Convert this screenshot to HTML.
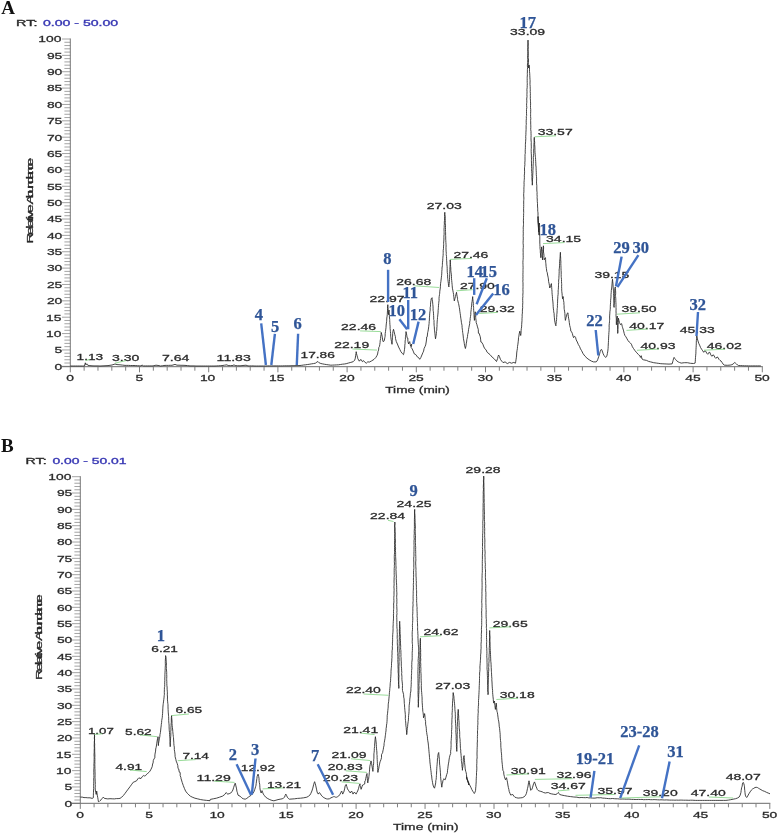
<!DOCTYPE html>
<html lang="en"><head><meta charset="utf-8"><title>Chromatograms</title>
<style>
html,body{margin:0;padding:0;background:#fff}
svg{display:block}
svg text{font-family:"Liberation Sans",Arial,sans-serif;stroke-width:0.27px}
svg text.b{font-family:"Liberation Serif","Times New Roman",serif;font-weight:bold;fill:#2f5597;stroke:#2f5597;stroke-width:0.25px}
svg text.p{font-family:"Liberation Serif","Times New Roman",serif;font-weight:bold;fill:#111;stroke:none}
</style></head><body>
<svg width="779" height="833" viewBox="0 0 779 833">
<rect width="100%" height="100%" fill="#fff"/>
<text class="p" x="1.2" y="14.2" font-size="19">A</text>
<text x="16.1" y="25.9" font-size="9.3" fill="#2a2a2a" stroke="#2a2a2a" textLength="21.4" lengthAdjust="spacingAndGlyphs" style="stroke-width:0.35px">RT:</text>
<text x="42.9" y="25.9" font-size="9.3" fill="#3838b4" stroke="#3838b4" textLength="75.3" lengthAdjust="spacingAndGlyphs" style="stroke-width:0.35px">0.00 - 50.00</text>
<path d="M62.0 366.30H70.3M64.4 363.03H70.3M64.4 359.75H70.3M64.4 356.48H70.3M64.4 353.21H70.3M62.0 349.94H70.3M64.4 346.66H70.3M64.4 343.39H70.3M64.4 340.12H70.3M64.4 336.84H70.3M62.0 333.57H70.3M64.4 330.30H70.3M64.4 327.02H70.3M64.4 323.75H70.3M64.4 320.48H70.3M62.0 317.21H70.3M64.4 313.93H70.3M64.4 310.66H70.3M64.4 307.39H70.3M64.4 304.11H70.3M62.0 300.84H70.3M64.4 297.57H70.3M64.4 294.29H70.3M64.4 291.02H70.3M64.4 287.75H70.3M62.0 284.48H70.3M64.4 281.20H70.3M64.4 277.93H70.3M64.4 274.66H70.3M64.4 271.38H70.3M62.0 268.11H70.3M64.4 264.84H70.3M64.4 261.56H70.3M64.4 258.29H70.3M64.4 255.02H70.3M62.0 251.75H70.3M64.4 248.47H70.3M64.4 245.20H70.3M64.4 241.93H70.3M64.4 238.65H70.3M62.0 235.38H70.3M64.4 232.11H70.3M64.4 228.83H70.3M64.4 225.56H70.3M64.4 222.29H70.3M62.0 219.02H70.3M64.4 215.74H70.3M64.4 212.47H70.3M64.4 209.20H70.3M64.4 205.92H70.3M62.0 202.65H70.3M64.4 199.38H70.3M64.4 196.10H70.3M64.4 192.83H70.3M64.4 189.56H70.3M62.0 186.28H70.3M64.4 183.01H70.3M64.4 179.74H70.3M64.4 176.47H70.3M64.4 173.19H70.3M62.0 169.92H70.3M64.4 166.65H70.3M64.4 163.37H70.3M64.4 160.10H70.3M64.4 156.83H70.3M62.0 153.56H70.3M64.4 150.28H70.3M64.4 147.01H70.3M64.4 143.74H70.3M64.4 140.46H70.3M62.0 137.19H70.3M64.4 133.92H70.3M64.4 130.64H70.3M64.4 127.37H70.3M64.4 124.10H70.3M62.0 120.82H70.3M64.4 117.55H70.3M64.4 114.28H70.3M64.4 111.01H70.3M64.4 107.73H70.3M62.0 104.46H70.3M64.4 101.19H70.3M64.4 97.91H70.3M64.4 94.64H70.3M64.4 91.37H70.3M62.0 88.10H70.3M64.4 84.82H70.3M64.4 81.55H70.3M64.4 78.28H70.3M64.4 75.00H70.3M62.0 71.73H70.3M64.4 68.46H70.3M64.4 65.18H70.3M64.4 61.91H70.3M64.4 58.64H70.3M62.0 55.37H70.3M64.4 52.09H70.3M64.4 48.82H70.3M64.4 45.55H70.3M64.4 42.27H70.3M62.0 39.00H70.3" stroke="#9a9a9a" stroke-width="0.9" fill="none"/>
<line x1="70.3" y1="38.5" x2="70.3" y2="366.8" stroke="#777" stroke-width="1"/>
<text x="54.6" y="369.6" font-size="9.3" fill="#2a2a2a" stroke="#2a2a2a" textLength="7.7" lengthAdjust="spacingAndGlyphs">0</text>
<text x="54.6" y="353.2" font-size="9.3" fill="#2a2a2a" stroke="#2a2a2a" textLength="7.7" lengthAdjust="spacingAndGlyphs">5</text>
<text x="46.0" y="336.9" font-size="9.3" fill="#2a2a2a" stroke="#2a2a2a" textLength="15.4" lengthAdjust="spacingAndGlyphs">10</text>
<text x="46.0" y="320.5" font-size="9.3" fill="#2a2a2a" stroke="#2a2a2a" textLength="15.4" lengthAdjust="spacingAndGlyphs">15</text>
<text x="46.9" y="304.1" font-size="9.3" fill="#2a2a2a" stroke="#2a2a2a" textLength="15.4" lengthAdjust="spacingAndGlyphs">20</text>
<text x="46.9" y="287.8" font-size="9.3" fill="#2a2a2a" stroke="#2a2a2a" textLength="15.4" lengthAdjust="spacingAndGlyphs">25</text>
<text x="46.9" y="271.4" font-size="9.3" fill="#2a2a2a" stroke="#2a2a2a" textLength="15.4" lengthAdjust="spacingAndGlyphs">30</text>
<text x="46.9" y="255.0" font-size="9.3" fill="#2a2a2a" stroke="#2a2a2a" textLength="15.4" lengthAdjust="spacingAndGlyphs">35</text>
<text x="46.9" y="238.7" font-size="9.3" fill="#2a2a2a" stroke="#2a2a2a" textLength="15.4" lengthAdjust="spacingAndGlyphs">40</text>
<text x="46.9" y="222.3" font-size="9.3" fill="#2a2a2a" stroke="#2a2a2a" textLength="15.4" lengthAdjust="spacingAndGlyphs">45</text>
<text x="46.9" y="206.0" font-size="9.3" fill="#2a2a2a" stroke="#2a2a2a" textLength="15.4" lengthAdjust="spacingAndGlyphs">50</text>
<text x="46.9" y="189.6" font-size="9.3" fill="#2a2a2a" stroke="#2a2a2a" textLength="15.4" lengthAdjust="spacingAndGlyphs">55</text>
<text x="46.9" y="173.2" font-size="9.3" fill="#2a2a2a" stroke="#2a2a2a" textLength="15.4" lengthAdjust="spacingAndGlyphs">60</text>
<text x="46.9" y="156.9" font-size="9.3" fill="#2a2a2a" stroke="#2a2a2a" textLength="15.4" lengthAdjust="spacingAndGlyphs">65</text>
<text x="46.9" y="140.5" font-size="9.3" fill="#2a2a2a" stroke="#2a2a2a" textLength="15.4" lengthAdjust="spacingAndGlyphs">70</text>
<text x="46.9" y="124.1" font-size="9.3" fill="#2a2a2a" stroke="#2a2a2a" textLength="15.4" lengthAdjust="spacingAndGlyphs">75</text>
<text x="46.9" y="107.8" font-size="9.3" fill="#2a2a2a" stroke="#2a2a2a" textLength="15.4" lengthAdjust="spacingAndGlyphs">80</text>
<text x="46.9" y="91.4" font-size="9.3" fill="#2a2a2a" stroke="#2a2a2a" textLength="15.4" lengthAdjust="spacingAndGlyphs">85</text>
<text x="46.9" y="75.0" font-size="9.3" fill="#2a2a2a" stroke="#2a2a2a" textLength="15.4" lengthAdjust="spacingAndGlyphs">90</text>
<text x="46.9" y="58.7" font-size="9.3" fill="#2a2a2a" stroke="#2a2a2a" textLength="15.4" lengthAdjust="spacingAndGlyphs">95</text>
<text x="38.3" y="42.3" font-size="9.3" fill="#2a2a2a" stroke="#2a2a2a" textLength="23.1" lengthAdjust="spacingAndGlyphs">100</text>
<line x1="62.0" y1="366.7" x2="762.8" y2="366.7" stroke="#6a6a6a" stroke-width="1"/>
<path d="M70.30 366.7v5.6M84.14 366.7v4.0M97.98 366.7v4.0M111.82 366.7v4.0M125.66 366.7v4.0M139.50 366.7v5.6M153.34 366.7v4.0M167.18 366.7v4.0M181.02 366.7v4.0M194.86 366.7v4.0M208.70 366.7v5.6M222.54 366.7v4.0M236.38 366.7v4.0M250.22 366.7v4.0M264.06 366.7v4.0M277.90 366.7v5.6M291.74 366.7v4.0M305.58 366.7v4.0M319.42 366.7v4.0M333.26 366.7v4.0M347.10 366.7v5.6M360.94 366.7v4.0M374.78 366.7v4.0M388.62 366.7v4.0M402.46 366.7v4.0M416.30 366.7v5.6M430.14 366.7v4.0M443.98 366.7v4.0M457.82 366.7v4.0M471.66 366.7v4.0M485.50 366.7v5.6M499.34 366.7v4.0M513.18 366.7v4.0M527.02 366.7v4.0M540.86 366.7v4.0M554.70 366.7v5.6M568.54 366.7v4.0M582.38 366.7v4.0M596.22 366.7v4.0M610.06 366.7v4.0M623.90 366.7v5.6M637.74 366.7v4.0M651.58 366.7v4.0M665.42 366.7v4.0M679.26 366.7v4.0M693.10 366.7v5.6M706.94 366.7v4.0M720.78 366.7v4.0M734.62 366.7v4.0M748.46 366.7v4.0M762.30 366.7v5.6" stroke="#808080" stroke-width="1" fill="none"/>
<text x="66.2" y="381.0" font-size="9.0" fill="#2a2a2a" stroke="#2a2a2a" textLength="7.7" lengthAdjust="spacingAndGlyphs">0</text>
<text x="135.5" y="381.0" font-size="9.0" fill="#2a2a2a" stroke="#2a2a2a" textLength="7.7" lengthAdjust="spacingAndGlyphs">5</text>
<text x="199.9" y="381.0" font-size="9.0" fill="#2a2a2a" stroke="#2a2a2a" textLength="15.4" lengthAdjust="spacingAndGlyphs">10</text>
<text x="269.1" y="381.0" font-size="9.0" fill="#2a2a2a" stroke="#2a2a2a" textLength="15.4" lengthAdjust="spacingAndGlyphs">15</text>
<text x="339.2" y="381.0" font-size="9.0" fill="#2a2a2a" stroke="#2a2a2a" textLength="15.4" lengthAdjust="spacingAndGlyphs">20</text>
<text x="408.4" y="381.0" font-size="9.0" fill="#2a2a2a" stroke="#2a2a2a" textLength="15.4" lengthAdjust="spacingAndGlyphs">25</text>
<text x="477.6" y="381.0" font-size="9.0" fill="#2a2a2a" stroke="#2a2a2a" textLength="15.4" lengthAdjust="spacingAndGlyphs">30</text>
<text x="546.8" y="381.0" font-size="9.0" fill="#2a2a2a" stroke="#2a2a2a" textLength="15.4" lengthAdjust="spacingAndGlyphs">35</text>
<text x="616.0" y="381.0" font-size="9.0" fill="#2a2a2a" stroke="#2a2a2a" textLength="15.4" lengthAdjust="spacingAndGlyphs">40</text>
<text x="685.2" y="381.0" font-size="9.0" fill="#2a2a2a" stroke="#2a2a2a" textLength="15.4" lengthAdjust="spacingAndGlyphs">45</text>
<text x="754.4" y="381.0" font-size="9.0" fill="#2a2a2a" stroke="#2a2a2a" textLength="15.4" lengthAdjust="spacingAndGlyphs">50</text>
<text x="385.3" y="393.0" font-size="9.3" fill="#2a2a2a" stroke="#2a2a2a" textLength="64.6" lengthAdjust="spacingAndGlyphs">Time (min)</text>
<text transform="translate(32.9 243.6) rotate(-90) scale(1.6 1)" font-size="9.4" fill="#2a2a2a" stroke="#2a2a2a" style="stroke-width:0.3px"><tspan letter-spacing="-1.35">Relative </tspan><tspan letter-spacing="-2.3">Abundance</tspan></text>
<polyline points="70.3,366.0 72.1,366.0 73.8,366.0 75.6,366.0 77.4,366.0 79.2,366.0 81.0,366.0 82.7,366.0 84.5,366.0 85.3,362.8 86.0,364.8 86.8,363.8 87.8,365.3 89.9,365.6 92.0,365.8 94.0,365.9 96.0,365.9 98.0,365.9 100.0,366.0 102.0,365.9 104.0,365.8 106.0,365.7 108.0,365.6 110.0,365.3 112.0,365.0 115.0,364.0 117.0,364.6 120.0,364.8 122.5,365.1 125.0,365.4 126.8,365.4 128.6,365.4 130.4,365.5 132.2,365.5 134.0,365.5 135.8,365.6 137.5,365.7 139.2,365.8 141.0,365.9 142.0,365.0 143.5,365.9 145.4,365.9 147.3,365.9 149.2,365.9 151.1,365.9 153.0,365.9 156.0,365.2 159.0,365.6 160.5,366.0 162.8,365.7 165.0,365.4 166.8,365.4 168.5,365.4 170.2,365.3 172.0,365.3 175.0,364.4 177.0,365.2 179.0,365.2 181.0,365.3 183.0,365.3 185.0,365.4 187.5,365.6 190.0,365.9 192.0,365.9 194.0,365.9 196.0,366.0 198.0,366.0 200.0,366.0 201.9,366.0 203.8,366.0 205.6,366.0 207.5,366.0 209.4,366.0 211.2,366.0 213.1,366.0 215.0,366.0 216.8,365.9 218.5,365.8 220.2,365.7 222.0,365.6 224.5,365.2 227.0,364.8 228.0,365.6 230.5,365.6 233.0,365.5 234.0,364.7 235.0,365.6 237.5,365.7 240.0,365.8 242.0,365.6 244.0,365.4 246.0,365.2 248.0,365.9 249.7,365.9 251.4,365.9 253.1,365.9 254.9,366.0 256.6,366.0 258.3,366.0 260.0,366.0 261.9,366.0 263.8,366.0 265.6,366.0 267.5,365.9 269.4,365.9 271.2,365.9 273.1,365.9 275.0,365.9 276.9,365.9 278.8,365.9 280.6,365.9 282.5,365.9 284.4,365.8 286.2,365.8 288.1,365.8 290.0,365.8 292.0,365.7 294.0,365.7 296.0,365.6 298.0,365.6 300.0,365.5 301.8,365.3 303.7,365.0 305.5,364.8 307.4,364.5 309.2,364.3 311.3,363.9 313.4,363.6 315.4,363.2 316.9,362.1 317.9,361.5 319.1,362.8 320.8,363.5 322.7,363.9 324.7,364.3 326.7,364.6 328.8,364.9 330.8,365.2 332.7,365.1 334.7,365.0 336.6,364.9 338.5,364.8 340.4,364.5 342.4,364.2 344.3,364.0 346.2,363.7 348.5,363.0 350.8,362.4 353.2,361.7 354.7,360.1 355.3,358.2 355.6,355.5 356.0,353.6 356.2,351.7 356.5,353.6 356.9,355.1 357.5,357.2 357.8,358.6 359.3,361.2 360.2,360.0 361.0,359.4 362.4,361.7 363.5,360.6 364.7,362.1 366.3,363.2 367.8,361.8 369.3,362.1 371.6,360.9 374.0,359.4 375.8,357.5 377.0,355.5 377.6,354.0 378.0,351.5 378.6,350.1 378.8,347.5 379.5,346.3 379.8,344.4 380.1,342.4 380.2,340.7 380.6,338.7 380.7,336.3 381.1,334.8 381.2,332.4 381.8,334.7 382.4,337.8 382.9,341.3 383.2,341.6 384.0,341.2 384.4,340.1 384.8,337.7 385.1,336.3 385.2,333.6 385.5,331.6 385.7,329.9 386.0,327.7 386.1,326.0 386.3,323.9 386.6,321.7 386.7,320.1 386.8,318.0 387.1,316.2 387.3,314.3 387.4,312.0 387.5,310.9 387.5,308.5 387.5,306.9 387.8,304.7 388.0,306.5 388.0,307.7 388.2,309.6 388.3,311.6 388.6,314.7 388.8,312.3 389.1,310.1 389.0,312.1 389.2,313.2 389.4,315.5 389.4,316.9 389.7,319.5 389.7,320.8 389.8,322.3 389.9,324.4 390.1,326.2 390.1,328.3 390.3,330.1 390.4,331.7 390.6,333.5 390.7,336.1 390.9,337.8 391.1,339.3 391.5,341.6 392.0,344.3 392.2,342.0 392.3,340.3 392.4,337.8 392.6,336.1 392.7,333.6 392.9,331.6 393.5,329.3 394.1,331.6 394.8,334.7 395.4,336.6 395.5,338.6 396.3,341.6 397.4,344.0 398.6,347.0 399.8,349.4 400.9,351.7 402.3,353.5 403.5,354.7 404.2,351.7 404.5,349.3 404.8,347.0 404.8,345.2 405.1,343.4 405.1,341.0 405.4,339.6 405.4,337.8 405.6,336.2 405.9,334.1 406.0,331.6 406.5,333.9 406.8,335.6 407.1,337.8 407.8,338.0 407.9,341.2 408.6,344.0 409.2,342.4 409.7,341.6 410.2,344.3 410.6,346.3 411.2,344.6 411.7,344.0 411.5,345.9 411.1,347.4 412.2,348.9 413.2,351.1 414.3,353.9 415.8,354.6 417.6,357.2 418.6,357.6 419.7,359.3 420.8,357.6 421.9,355.0 423.0,352.4 423.6,351.1 424.1,348.5 425.1,346.4 425.7,344.9 426.2,342.0 426.6,339.0 426.7,336.9 427.3,336.6 427.4,335.0 427.7,332.4 428.0,331.3 428.4,329.1 428.7,326.7 428.9,324.9 429.1,323.6 429.2,321.5 429.4,320.0 429.4,317.9 429.6,315.9 429.7,313.9 429.9,311.8 430.2,310.1 430.2,307.5 430.5,306.1 430.5,304.2 430.7,302.1 431.0,300.3 431.2,298.8 432.1,297.7 432.2,299.8 432.5,301.2 432.7,303.1 432.8,304.7 433.0,306.1 433.1,308.8 433.1,310.3 433.4,311.8 433.5,313.8 433.6,315.5 433.7,317.1 433.7,319.4 434.0,320.3 434.0,322.6 434.1,325.2 434.3,326.8 434.4,329.1 434.6,330.9 434.9,333.1 435.1,335.5 435.5,338.8 435.9,336.6 436.4,333.4 436.4,331.5 436.8,330.1 436.8,328.0 437.0,326.4 437.0,324.7 437.1,323.1 437.2,321.0 437.4,319.5 437.5,317.5 437.7,316.1 437.9,314.1 438.1,312.1 438.1,310.7 438.3,308.8 438.4,307.4 438.5,305.3 438.7,303.5 438.8,302.2 439.1,300.3 439.0,298.3 439.2,296.6 439.5,294.5 439.7,293.2 439.8,291.2 440.3,288.0 440.4,286.2 440.6,283.3 440.9,281.5 441.2,279.0 441.4,277.2 441.6,275.6 441.8,273.1 441.8,271.3 442.0,269.6 442.0,268.0 442.4,265.6 442.4,264.2 442.5,262.2 442.7,260.8 442.8,258.5 442.9,257.2 443.1,255.5 443.2,253.5 443.2,252.6 443.2,250.4 443.5,248.4 443.5,246.9 443.7,244.7 443.6,243.7 443.7,241.9 443.9,240.0 443.9,237.7 443.9,236.1 444.1,234.5 444.1,232.4 444.1,231.4 444.0,229.2 444.2,227.4 444.2,225.6 444.4,224.1 444.3,222.1 444.5,220.4 444.6,218.1 444.6,216.6 444.6,214.6 444.8,212.3 444.9,214.9 445.2,216.4 445.2,218.8 445.3,220.6 445.3,222.4 445.3,223.8 445.5,225.2 445.5,227.4 445.5,229.6 445.5,231.5 445.6,232.9 445.6,235.4 445.7,236.9 445.7,239.1 445.8,240.5 445.9,242.6 446.0,244.3 446.1,245.9 446.0,247.3 446.0,249.1 446.1,251.2 446.3,253.3 446.2,254.5 446.5,256.5 446.6,258.8 446.6,260.3 446.8,262.0 446.8,264.1 447.1,266.4 447.2,268.5 447.2,270.1 447.3,272.6 447.6,274.5 447.6,276.1 447.7,278.4 447.9,279.7 448.1,281.5 448.4,283.6 448.5,285.4 448.9,286.9 449.0,285.3 449.2,283.7 449.4,281.5 449.5,279.4 449.6,277.2 449.7,274.8 449.7,273.7 449.8,271.8 449.9,269.6 449.9,267.7 450.0,266.4 450.1,264.3 450.3,262.1 450.2,259.9 450.3,262.4 450.5,264.5 450.6,266.4 450.8,268.0 450.8,270.4 451.1,272.8 451.4,274.8 451.5,276.4 451.5,278.7 451.7,280.4 451.9,282.6 452.1,284.5 452.2,285.8 452.4,288.2 452.8,290.1 453.2,292.3 453.6,294.4 453.7,296.3 453.9,297.7 454.3,300.9 455.0,298.4 455.4,296.6 456.1,294.0 456.5,292.3 456.8,294.5 457.1,296.2 457.6,298.8 457.5,299.4 458.4,303.1 458.6,303.6 459.3,307.4 459.6,309.1 459.9,311.7 460.2,313.5 460.5,315.8 460.8,318.2 461.1,319.9 461.4,322.3 461.7,323.9 462.0,325.3 462.1,327.6 462.3,329.1 462.5,330.6 462.7,332.6 462.9,333.7 463.2,336.0 463.4,338.3 463.7,340.0 464.1,342.0 464.3,343.7 464.7,345.9 465.4,348.5 466.0,345.9 466.2,343.9 466.6,342.0 466.8,339.7 467.2,338.1 467.5,336.6 467.7,334.4 468.1,333.0 468.4,331.2 468.5,329.7 468.9,327.7 469.2,326.0 469.7,323.7 469.7,322.0 470.1,320.4 470.2,318.4 470.5,316.5 470.8,314.4 470.8,312.2 471.0,311.1 471.2,309.5 471.4,307.4 471.6,305.9 471.8,303.1 472.1,301.4 472.4,299.3 472.7,296.6 472.8,298.8 473.1,301.4 473.4,303.6 473.3,305.5 473.6,307.4 473.6,308.7 473.7,310.5 473.9,312.2 474.0,314.4 474.1,316.8 474.3,318.9 474.4,320.4 474.7,319.0 474.6,317.4 474.9,315.2 475.1,313.3 475.3,311.8 475.3,314.1 475.7,315.3 475.7,317.4 475.8,318.7 476.1,320.7 476.2,322.6 476.8,324.3 477.5,326.9 478.3,329.5 478.4,333.2 479.2,333.4 480.0,336.1 480.3,336.8 480.7,339.9 480.9,342.0 481.4,342.0 482.9,344.2 483.5,346.0 484.6,348.5 486.1,349.8 487.0,352.1 487.8,352.8 490.0,354.6 492.2,357.2 494.3,358.9 496.5,361.5 497.6,358.5 498.0,356.5 498.6,355.0 499.5,356.7 500.4,359.3 501.7,361.1 503.0,362.6 505.1,361.9 507.3,363.6 509.5,362.4 511.6,363.2 513.8,362.4 515.5,363.2 515.8,361.2 516.1,359.2 516.4,357.2 516.6,355.0 516.7,353.0 517.0,350.7 517.4,348.5 517.5,346.5 517.9,344.2 518.2,341.8 518.4,340.0 518.5,337.7 518.9,336.1 519.2,333.8 519.8,331.2 520.3,333.8 520.7,335.5 521.0,333.6 521.1,330.8 521.3,328.7 521.6,326.9 521.7,324.3 521.8,323.0 522.0,320.4 522.0,318.7 522.2,316.5 522.1,314.9 522.4,313.1 522.4,311.8 522.4,310.0 522.7,307.7 522.6,305.8 522.7,304.1 522.8,302.4 522.7,300.4 522.7,298.2 522.9,296.6 522.8,295.3 523.0,292.7 523.0,291.2 522.9,289.4 523.0,287.8 523.0,286.5 523.0,284.9 523.0,282.8 522.8,281.2 523.0,279.9 522.9,278.2 523.0,276.2 522.9,274.7 523.0,272.6 523.0,270.6 523.0,269.5 523.1,267.7 523.0,265.6 523.0,264.7 522.9,262.4 523.0,260.5 523.1,259.5 523.2,257.7 523.2,255.8 523.1,254.0 523.2,252.7 523.1,251.0 523.1,249.1 523.3,247.6 523.3,245.2 523.1,243.3 523.1,242.2 523.2,240.3 523.3,238.1 523.2,236.6 523.2,235.1 523.3,233.2 523.2,231.8 523.3,229.4 523.2,227.9 523.4,225.9 523.5,224.7 523.5,223.2 523.4,220.8 523.5,218.9 523.5,217.4 523.6,215.4 523.6,213.5 523.7,212.4 523.6,210.0 523.6,208.7 523.7,206.6 523.7,204.4 523.7,203.0 523.7,200.7 523.8,199.6 523.9,198.0 523.7,196.1 523.7,193.5 523.9,191.9 523.9,189.7 523.9,187.9 524.0,186.5 524.1,184.4 524.0,182.7 524.2,180.5 524.3,179.2 524.4,177.7 524.3,175.2 524.5,173.9 524.6,171.8 524.5,170.0 524.5,167.8 524.7,166.3 524.9,164.5 524.8,162.9 525.0,160.8 525.0,159.0 525.0,156.7 525.0,154.6 525.3,153.2 525.2,151.1 525.3,149.3 525.4,147.3 525.4,145.9 525.4,144.3 525.6,141.8 525.7,140.0 525.8,138.6 525.7,136.6 525.9,134.7 525.9,132.8 526.0,131.0 526.1,129.4 526.1,127.0 526.1,125.5 526.3,124.3 526.2,122.3 526.2,120.8 526.4,118.5 526.3,116.6 526.6,115.5 526.5,113.3 526.5,111.3 526.5,109.4 526.8,107.5 526.6,105.5 526.6,103.8 526.8,102.3 526.8,100.8 526.7,99.0 527.0,96.6 526.9,94.5 527.0,93.1 527.0,91.3 526.9,89.6 527.2,87.4 527.2,85.5 527.3,83.8 527.2,82.5 527.2,80.5 527.2,78.3 527.2,77.2 527.4,74.8 527.3,73.7 527.4,72.0 527.4,69.6 527.6,67.8 527.4,65.9 527.5,63.9 527.7,62.3 527.6,60.2 527.8,59.3 527.6,57.6 527.7,55.3 527.9,53.2 527.9,51.5 527.7,49.4 527.9,47.5 527.9,46.1 527.9,43.9 528.0,42.0 528.0,40.1 528.0,42.4 528.2,44.0 528.0,46.2 528.2,48.2 528.1,49.2 528.1,51.2 528.2,53.9 528.3,55.3 528.2,57.5 528.4,58.4 528.5,61.0 528.4,62.7 528.3,64.6 528.5,66.1 528.5,67.9 529.0,64.9 529.3,65.4 529.4,67.0 529.5,69.2 529.5,71.3 529.7,73.3 529.8,75.5 529.9,77.9 530.0,79.6 530.1,80.9 530.0,83.0 530.0,84.5 530.2,86.5 530.2,88.1 530.3,89.8 530.2,91.7 530.4,93.5 530.3,95.8 530.4,96.9 530.3,98.3 530.5,100.9 530.5,101.8 530.6,103.9 530.5,105.7 530.5,107.4 530.7,109.4 530.7,111.2 530.6,113.3 530.6,114.7 530.6,116.6 530.8,118.7 530.6,120.5 530.7,121.9 530.7,124.2 530.8,125.9 530.8,127.3 530.7,129.3 531.0,131.5 531.0,133.3 531.1,135.4 531.0,137.4 531.0,138.9 531.1,141.0 531.3,142.4 531.2,144.0 531.3,146.1 531.3,148.3 531.2,149.3 531.2,151.4 531.3,153.8 531.4,155.0 531.4,157.1 531.5,159.1 531.4,160.7 531.5,163.1 531.5,164.0 531.5,166.3 531.7,168.3 531.5,169.3 531.7,171.5 531.9,173.6 531.8,174.8 532.0,176.8 531.9,178.1 532.0,180.1 532.2,182.2 532.3,185.2 532.5,182.8 532.5,181.4 532.5,179.1 532.7,177.6 532.7,175.8 532.8,173.8 532.9,172.5 532.9,170.3 533.1,168.2 533.1,166.2 533.1,165.0 533.3,163.3 533.3,161.2 533.4,159.8 533.3,157.3 533.5,155.7 533.7,153.7 533.7,151.9 533.6,150.9 533.8,148.6 533.9,147.2 533.9,144.5 534.1,142.5 534.2,140.9 534.1,139.5 534.3,137.3 534.4,138.9 534.4,140.5 534.7,142.3 534.6,144.2 534.8,146.1 534.9,147.8 534.9,150.2 535.0,152.4 535.2,154.3 535.3,156.2 535.5,157.6 535.6,159.6 535.7,161.6 535.8,163.2 535.8,165.0 536.1,167.2 536.1,168.8 536.2,170.7 536.3,172.3 536.3,174.7 536.5,176.7 536.6,178.1 536.6,180.1 536.5,181.9 536.6,183.9 536.8,185.7 536.8,186.8 536.8,189.0 536.9,191.1 537.1,192.6 537.0,194.3 537.2,196.3 537.1,197.7 537.3,200.1 537.3,201.6 537.5,203.4 537.5,206.0 537.7,208.2 537.7,209.9 537.8,211.7 538.0,212.9 538.0,215.5 538.2,217.0 538.3,218.5 538.3,220.5 538.4,222.7 538.5,224.3 538.6,226.8 538.8,228.7 538.8,230.6 539.0,232.7 539.1,235.1 538.9,233.4 538.9,231.0 538.8,229.3 538.5,227.4 538.6,225.9 538.4,224.4 538.2,222.1 538.1,220.1 538.0,218.9 537.9,216.6 538.0,218.9 538.0,220.2 538.1,222.5 538.2,223.9 538.2,225.3 538.4,227.4 538.6,230.1 538.6,231.8 538.8,230.2 538.9,227.7 539.0,226.4 539.5,223.1 539.4,225.4 539.7,227.0 539.6,228.9 539.6,230.7 539.6,232.8 539.7,235.0 539.8,236.8 539.8,239.1 539.8,241.0 539.8,243.1 539.9,244.7 540.0,246.7 540.0,248.4 540.3,250.1 540.3,252.3 540.5,253.8 540.7,255.9 540.8,257.7 541.0,256.0 540.9,253.5 541.2,251.6 541.5,249.3 541.6,246.9 541.7,249.2 542.0,250.3 541.9,252.8 542.1,254.5 542.1,256.5 542.4,258.1 542.5,259.9 542.5,257.9 542.7,255.4 542.7,254.1 542.9,251.6 543.0,249.2 543.2,248.1 543.4,245.8 543.6,247.8 543.5,249.9 543.5,252.0 543.8,253.8 544.0,255.6 543.9,257.5 544.2,259.9 544.9,258.1 545.5,257.7 545.6,259.7 545.7,262.2 545.9,263.8 546.1,266.5 546.4,268.5 546.8,271.7 547.2,272.4 547.6,275.0 548.1,277.2 548.4,278.9 548.6,281.5 549.0,283.2 549.4,285.3 549.8,288.0 550.7,285.4 551.4,283.6 551.5,285.1 551.7,287.5 551.8,289.4 552.0,291.2 552.0,292.5 552.2,294.7 552.4,296.6 552.5,298.7 552.8,301.0 553.0,303.0 553.1,304.8 553.2,306.6 553.3,308.1 553.6,310.3 553.7,311.8 554.1,313.4 554.2,315.9 554.4,317.8 554.6,320.1 555.0,322.6 555.5,324.7 555.9,325.8 556.0,324.2 556.3,321.5 556.6,319.5 556.6,317.5 556.8,316.1 556.8,314.3 557.0,313.1 557.1,310.4 557.2,308.6 557.4,307.8 557.4,305.7 557.5,303.4 557.6,301.9 557.6,300.0 557.8,298.1 557.8,296.6 558.1,294.4 558.2,292.5 558.1,290.9 558.3,289.7 558.4,287.9 558.5,285.8 558.5,284.2 558.7,282.5 558.6,281.1 558.9,278.4 558.9,277.2 559.0,275.8 559.1,273.8 559.2,271.6 559.1,270.0 559.4,268.1 559.5,265.8 559.6,263.7 559.6,261.7 559.8,259.9 560.0,258.2 560.1,256.7 560.2,254.5 560.4,252.3 560.5,253.9 560.5,255.7 560.7,258.2 560.7,259.8 560.9,262.0 560.8,263.3 560.9,265.5 561.0,267.6 561.0,268.8 561.1,270.7 561.2,272.0 561.2,274.5 561.2,276.3 561.3,277.6 561.5,279.4 561.5,281.5 561.6,283.4 561.7,284.5 561.6,286.7 561.7,288.4 561.7,290.1 561.8,291.6 562.1,293.9 562.2,295.5 562.6,298.8 563.0,297.1 563.2,296.6 563.3,298.9 563.6,300.8 563.9,302.5 563.9,304.2 564.1,305.6 564.1,308.2 564.3,309.6 564.7,311.9 564.9,313.7 565.0,316.1 565.2,318.7 565.4,320.4 566.1,317.4 566.5,316.1 567.1,313.5 568.0,312.8 568.1,314.3 568.4,316.8 568.6,318.2 569.0,320.2 569.3,322.6 569.7,325.4 570.2,327.3 570.6,328.8 570.8,331.2 571.5,331.6 572.3,333.4 573.0,336.0 573.6,337.7 574.5,336.4 575.1,336.6 575.6,337.5 576.2,339.9 577.3,342.0 578.4,344.6 579.5,346.4 580.5,348.9 581.6,350.7 583.1,353.7 584.9,356.1 587.0,358.2 589.2,359.8 591.4,361.1 593.5,361.9 596.1,361.9 597.0,361.1 597.8,359.3 598.7,356.7 599.6,353.9 600.2,351.5 600.6,350.2 601.3,349.4 601.7,349.6 602.6,352.0 603.2,353.9 604.1,355.6 604.8,356.7 605.4,357.2 606.1,357.2 606.7,356.3 607.1,355.0 607.4,353.4 607.8,351.1 608.1,348.4 608.2,346.4 608.3,344.0 608.4,342.7 608.5,340.6 608.6,338.1 608.7,336.1 608.8,334.5 608.9,332.6 609.1,330.7 609.1,329.1 609.2,327.8 609.1,325.9 609.3,323.6 609.5,321.8 609.5,320.4 609.7,319.1 609.6,317.0 609.7,315.1 609.8,313.9 609.9,311.8 610.2,309.8 610.3,308.0 610.3,306.4 610.4,304.8 610.6,302.4 610.6,300.7 610.8,298.8 611.0,296.9 611.0,294.5 611.2,292.7 611.3,290.4 611.7,288.0 611.9,286.0 612.1,283.2 612.3,280.9 612.5,279.3 612.7,281.3 613.0,284.1 613.1,286.1 613.2,287.9 613.4,290.1 613.6,291.9 613.6,293.7 613.5,295.5 613.8,297.0 613.7,299.1 613.8,300.9 614.0,303.1 613.9,305.1 614.1,307.4 614.0,305.5 614.2,303.9 614.3,302.0 614.4,300.2 614.5,298.1 614.5,296.6 614.7,294.1 614.7,292.0 614.7,290.1 615.1,287.5 615.4,286.9 615.3,288.6 615.6,290.9 615.7,293.2 615.5,295.3 615.6,296.7 615.8,298.8 615.8,300.8 615.9,302.5 616.0,304.5 616.0,306.1 616.0,307.4 616.1,308.9 616.0,310.9 616.1,313.6 616.0,315.4 616.2,317.2 616.3,318.8 616.3,320.5 616.3,323.3 616.4,324.7 616.6,323.1 616.8,321.3 616.9,319.3 617.3,316.1 617.2,318.2 617.4,319.6 617.4,322.4 617.4,324.0 617.5,325.8 617.6,328.1 617.7,329.6 617.7,331.1 617.7,333.4 617.9,331.9 617.8,329.5 618.1,327.6 618.0,326.0 618.2,324.3 618.3,322.3 618.3,320.1 618.4,318.2 619.0,320.8 619.5,322.6 620.1,323.9 620.5,324.7 621.2,323.9 621.6,323.6 622.3,326.6 622.5,327.3 623.4,330.1 624.2,333.4 624.9,335.5 625.9,336.8 627.0,338.8 628.1,340.7 629.2,342.0 630.3,342.9 631.4,344.2 632.4,346.8 633.5,348.5 635.0,350.7 636.8,352.8 638.5,354.6 640.0,356.1 640.4,357.4 641.2,355.7 642.0,359.0 643.5,359.8 646.5,360.4 648.6,361.4 650.6,361.9 653.7,362.7 656.7,363.1 658.8,363.4 660.8,363.7 662.9,363.8 664.9,363.9 666.9,364.0 669.0,364.1 672.1,363.9 672.7,361.9 673.1,360.4 673.7,358.2 674.1,357.4 674.7,358.4 675.5,359.4 676.7,360.8 678.2,361.9 679.6,362.5 681.2,363.1 684.3,362.7 687.4,362.7 690.4,363.3 693.5,363.5 695.1,363.1 695.3,361.2 695.4,359.2 695.5,357.4 695.7,355.2 695.9,353.2 695.9,351.2 696.0,349.5 696.1,347.7 696.2,345.8 696.3,343.9 696.3,342.1 696.4,340.4 696.6,338.3 696.8,335.9 697.4,339.0 698.0,341.0 698.8,343.5 699.6,345.1 700.6,347.6 701.6,349.2 702.7,350.8 703.7,352.3 704.7,350.8 705.7,351.2 706.8,353.3 707.8,354.3 708.8,352.5 709.8,352.3 710.8,354.9 711.9,356.3 712.9,354.9 713.9,355.3 714.9,357.4 715.9,358.4 717.0,357.0 718.0,357.4 719.0,359.4 720.0,360.4 721.0,361.0 722.1,362.5 723.1,364.1 724.1,365.1 727.2,365.3 730.2,365.1 731.9,364.7 733.3,363.9 734.1,362.9 734.7,362.5 735.5,363.1 736.4,363.9 737.4,364.9 738.4,365.5 740.4,365.6 742.5,365.7 744.5,365.8 746.6,365.8 748.6,365.9 750.6,365.9 752.3,365.9 754.0,365.9 755.7,365.9 757.4,365.9 759.1,365.9 760.8,365.9" fill="none" stroke="#262626" stroke-width="0.85" stroke-linejoin="round"/>
<text x="76.6" y="360.1" font-size="9" fill="#2a2a2a" stroke="#2a2a2a" textLength="26.6" lengthAdjust="spacingAndGlyphs">1.13</text>
<text x="112.0" y="361.1" font-size="9" fill="#2a2a2a" stroke="#2a2a2a" textLength="27.4" lengthAdjust="spacingAndGlyphs">3.30</text>
<text x="162.0" y="361.1" font-size="9" fill="#2a2a2a" stroke="#2a2a2a" textLength="27.4" lengthAdjust="spacingAndGlyphs">7.64</text>
<text x="216.6" y="361.1" font-size="9" fill="#2a2a2a" stroke="#2a2a2a" textLength="34.2" lengthAdjust="spacingAndGlyphs">11.83</text>
<text x="300.6" y="358.2" font-size="9" fill="#2a2a2a" stroke="#2a2a2a" textLength="34.2" lengthAdjust="spacingAndGlyphs">17.86</text>
<text x="334.2" y="347.9" font-size="9" fill="#2a2a2a" stroke="#2a2a2a" textLength="35.0" lengthAdjust="spacingAndGlyphs">22.19</text>
<text x="341.1" y="330.2" font-size="9" fill="#2a2a2a" stroke="#2a2a2a" textLength="35.0" lengthAdjust="spacingAndGlyphs">22.46</text>
<text x="369.6" y="302.0" font-size="9" fill="#2a2a2a" stroke="#2a2a2a" textLength="35.0" lengthAdjust="spacingAndGlyphs">22.97</text>
<text x="396.3" y="285.1" font-size="9" fill="#2a2a2a" stroke="#2a2a2a" textLength="35.0" lengthAdjust="spacingAndGlyphs">26.68</text>
<text x="426.8" y="209.2" font-size="9" fill="#2a2a2a" stroke="#2a2a2a" textLength="35.0" lengthAdjust="spacingAndGlyphs">27.03</text>
<text x="453.4" y="258.1" font-size="9" fill="#2a2a2a" stroke="#2a2a2a" textLength="35.0" lengthAdjust="spacingAndGlyphs">27.46</text>
<text x="459.9" y="289.4" font-size="9" fill="#2a2a2a" stroke="#2a2a2a" textLength="35.0" lengthAdjust="spacingAndGlyphs">27.90</text>
<text x="479.8" y="312.2" font-size="9" fill="#2a2a2a" stroke="#2a2a2a" textLength="35.0" lengthAdjust="spacingAndGlyphs">29.32</text>
<text x="510.1" y="35.1" font-size="9" fill="#2a2a2a" stroke="#2a2a2a" textLength="35.0" lengthAdjust="spacingAndGlyphs">33.09</text>
<text x="537.7" y="135.4" font-size="9" fill="#2a2a2a" stroke="#2a2a2a" textLength="35.0" lengthAdjust="spacingAndGlyphs">33.57</text>
<text x="546.1" y="242.0" font-size="9" fill="#2a2a2a" stroke="#2a2a2a" textLength="35.0" lengthAdjust="spacingAndGlyphs">34.15</text>
<text x="594.4" y="277.6" font-size="9" fill="#2a2a2a" stroke="#2a2a2a" textLength="35.0" lengthAdjust="spacingAndGlyphs">39.15</text>
<text x="621.5" y="312.4" font-size="9" fill="#2a2a2a" stroke="#2a2a2a" textLength="35.0" lengthAdjust="spacingAndGlyphs">39.50</text>
<text x="629.3" y="328.8" font-size="9" fill="#2a2a2a" stroke="#2a2a2a" textLength="35.0" lengthAdjust="spacingAndGlyphs">40.17</text>
<text x="640.5" y="348.7" font-size="9" fill="#2a2a2a" stroke="#2a2a2a" textLength="35.0" lengthAdjust="spacingAndGlyphs">40.93</text>
<text x="679.8" y="333.4" font-size="9" fill="#2a2a2a" stroke="#2a2a2a" textLength="35.0" lengthAdjust="spacingAndGlyphs">45.33</text>
<text x="706.8" y="348.7" font-size="9" fill="#2a2a2a" stroke="#2a2a2a" textLength="35.0" lengthAdjust="spacingAndGlyphs">46.02</text>
<line x1="85.5" y1="360.6" x2="90.0" y2="359.4" stroke="#78d078" stroke-width="0.75"/>
<line x1="115.0" y1="363.2" x2="126.0" y2="360.6" stroke="#78d078" stroke-width="0.75"/>
<line x1="360.1" y1="330.9" x2="380.9" y2="331.6" stroke="#78d078" stroke-width="0.75"/>
<line x1="352.4" y1="349.0" x2="377.0" y2="350.1" stroke="#78d078" stroke-width="0.75"/>
<line x1="414.3" y1="285.8" x2="439.2" y2="287.5" stroke="#78d078" stroke-width="0.75"/>
<line x1="450.0" y1="259.4" x2="471.6" y2="258.4" stroke="#78d078" stroke-width="0.75"/>
<line x1="456.5" y1="290.8" x2="472.7" y2="289.7" stroke="#78d078" stroke-width="0.75"/>
<line x1="479.2" y1="313.5" x2="497.6" y2="312.4" stroke="#78d078" stroke-width="0.75"/>
<line x1="534.6" y1="136.8" x2="556.0" y2="135.8" stroke="#78d078" stroke-width="0.75"/>
<line x1="543.0" y1="243.6" x2="564.5" y2="242.6" stroke="#78d078" stroke-width="0.75"/>
<line x1="617.0" y1="314.2" x2="640.0" y2="312.8" stroke="#78d078" stroke-width="0.75"/>
<line x1="626.5" y1="330.4" x2="648.0" y2="329.0" stroke="#78d078" stroke-width="0.75"/>
<line x1="637.0" y1="350.3" x2="659.0" y2="349.0" stroke="#78d078" stroke-width="0.75"/>
<line x1="704.0" y1="350.2" x2="725.0" y2="349.2" stroke="#78d078" stroke-width="0.75"/>
<line x1="261.2" y1="323.4" x2="265.9" y2="365.0" stroke="#4472c4" stroke-width="2.4"/>
<line x1="274.9" y1="333.8" x2="271.3" y2="365.0" stroke="#4472c4" stroke-width="2.4"/>
<line x1="298.1" y1="333.8" x2="296.8" y2="365.0" stroke="#4472c4" stroke-width="2.4"/>
<line x1="388.1" y1="269.8" x2="388.1" y2="302.0" stroke="#4472c4" stroke-width="2.4"/>
<line x1="408.2" y1="300.0" x2="408.2" y2="329.3" stroke="#4472c4" stroke-width="2.4"/>
<line x1="399.4" y1="319.3" x2="407.1" y2="329.3" stroke="#4472c4" stroke-width="2.4"/>
<line x1="418.6" y1="321.6" x2="413.2" y2="344.0" stroke="#4472c4" stroke-width="2.4"/>
<line x1="474.2" y1="278.2" x2="474.2" y2="294.9" stroke="#4472c4" stroke-width="2.4"/>
<line x1="486.8" y1="278.2" x2="476.6" y2="304.2" stroke="#4472c4" stroke-width="2.4"/>
<line x1="493.2" y1="293.4" x2="476.0" y2="315.0" stroke="#4472c4" stroke-width="2.4"/>
<line x1="595.7" y1="330.0" x2="598.3" y2="355.5" stroke="#4472c4" stroke-width="2.4"/>
<line x1="621.6" y1="256.6" x2="616.0" y2="286.3" stroke="#4472c4" stroke-width="2.4"/>
<line x1="638.4" y1="255.2" x2="617.4" y2="287.1" stroke="#4472c4" stroke-width="2.4"/>
<line x1="698.0" y1="312.0" x2="696.5" y2="336.0" stroke="#4472c4" stroke-width="2.4"/>
<text class="b" x="254.8" y="320.3" font-size="16.5">4</text>
<text class="b" x="271.1" y="331.6" font-size="16.5">5</text>
<text class="b" x="293.4" y="329.0" font-size="16.5">6</text>
<text class="b" x="383.2" y="263.8" font-size="16.5">8</text>
<text class="b" x="402.5" y="298.4" font-size="16.5">11</text>
<text class="b" x="388.6" y="316.3" font-size="16.5">10</text>
<text class="b" x="409.8" y="319.8" font-size="16.5">12</text>
<text class="b" x="466.5" y="276.8" font-size="16.5">14</text>
<text class="b" x="480.6" y="276.8" font-size="16.5">15</text>
<text class="b" x="493.2" y="294.6" font-size="16.5">16</text>
<text class="b" x="519.6" y="28.3" font-size="16.5">17</text>
<text class="b" x="539.4" y="234.5" font-size="16.5">18</text>
<text class="b" x="586.2" y="326.1" font-size="16.5">22</text>
<text class="b" x="613.2" y="252.5" font-size="16.5">29</text>
<text class="b" x="632.4" y="252.5" font-size="16.5">30</text>
<text class="b" x="689.4" y="310.4" font-size="16.5">32</text>
<text class="p" x="1.0" y="451.8" font-size="19">B</text>
<text x="25.5" y="463.5" font-size="9.3" fill="#2a2a2a" stroke="#2a2a2a" textLength="21.2" lengthAdjust="spacingAndGlyphs" style="stroke-width:0.35px">RT:</text>
<text x="52.4" y="463.5" font-size="9.3" fill="#3838b4" stroke="#3838b4" textLength="74.2" lengthAdjust="spacingAndGlyphs" style="stroke-width:0.35px">0.00 - 50.01</text>
<path d="M72.0 803.30H80.3M74.4 800.03H80.3M74.4 796.77H80.3M74.4 793.50H80.3M74.4 790.24H80.3M72.0 786.97H80.3M74.4 783.70H80.3M74.4 780.44H80.3M74.4 777.17H80.3M74.4 773.91H80.3M72.0 770.64H80.3M74.4 767.37H80.3M74.4 764.11H80.3M74.4 760.84H80.3M74.4 757.58H80.3M72.0 754.31H80.3M74.4 751.04H80.3M74.4 747.78H80.3M74.4 744.51H80.3M74.4 741.25H80.3M72.0 737.98H80.3M74.4 734.71H80.3M74.4 731.45H80.3M74.4 728.18H80.3M74.4 724.92H80.3M72.0 721.65H80.3M74.4 718.38H80.3M74.4 715.12H80.3M74.4 711.85H80.3M74.4 708.59H80.3M72.0 705.32H80.3M74.4 702.05H80.3M74.4 698.79H80.3M74.4 695.52H80.3M74.4 692.26H80.3M72.0 688.99H80.3M74.4 685.72H80.3M74.4 682.46H80.3M74.4 679.19H80.3M74.4 675.93H80.3M72.0 672.66H80.3M74.4 669.39H80.3M74.4 666.13H80.3M74.4 662.86H80.3M74.4 659.60H80.3M72.0 656.33H80.3M74.4 653.06H80.3M74.4 649.80H80.3M74.4 646.53H80.3M74.4 643.27H80.3M72.0 640.00H80.3M74.4 636.73H80.3M74.4 633.47H80.3M74.4 630.20H80.3M74.4 626.94H80.3M72.0 623.67H80.3M74.4 620.40H80.3M74.4 617.14H80.3M74.4 613.87H80.3M74.4 610.61H80.3M72.0 607.34H80.3M74.4 604.07H80.3M74.4 600.81H80.3M74.4 597.54H80.3M74.4 594.28H80.3M72.0 591.01H80.3M74.4 587.74H80.3M74.4 584.48H80.3M74.4 581.21H80.3M74.4 577.95H80.3M72.0 574.68H80.3M74.4 571.41H80.3M74.4 568.15H80.3M74.4 564.88H80.3M74.4 561.62H80.3M72.0 558.35H80.3M74.4 555.08H80.3M74.4 551.82H80.3M74.4 548.55H80.3M74.4 545.29H80.3M72.0 542.02H80.3M74.4 538.75H80.3M74.4 535.49H80.3M74.4 532.22H80.3M74.4 528.96H80.3M72.0 525.69H80.3M74.4 522.42H80.3M74.4 519.16H80.3M74.4 515.89H80.3M74.4 512.63H80.3M72.0 509.36H80.3M74.4 506.09H80.3M74.4 502.83H80.3M74.4 499.56H80.3M74.4 496.30H80.3M72.0 493.03H80.3M74.4 489.76H80.3M74.4 486.50H80.3M74.4 483.23H80.3M74.4 479.97H80.3M72.0 476.70H80.3" stroke="#9a9a9a" stroke-width="0.9" fill="none"/>
<line x1="80.3" y1="476.2" x2="80.3" y2="803.8" stroke="#777" stroke-width="1"/>
<text x="64.6" y="806.6" font-size="9.3" fill="#2a2a2a" stroke="#2a2a2a" textLength="7.7" lengthAdjust="spacingAndGlyphs">0</text>
<text x="64.6" y="790.3" font-size="9.3" fill="#2a2a2a" stroke="#2a2a2a" textLength="7.7" lengthAdjust="spacingAndGlyphs">5</text>
<text x="56.0" y="773.9" font-size="9.3" fill="#2a2a2a" stroke="#2a2a2a" textLength="15.4" lengthAdjust="spacingAndGlyphs">10</text>
<text x="56.0" y="757.6" font-size="9.3" fill="#2a2a2a" stroke="#2a2a2a" textLength="15.4" lengthAdjust="spacingAndGlyphs">15</text>
<text x="56.9" y="741.3" font-size="9.3" fill="#2a2a2a" stroke="#2a2a2a" textLength="15.4" lengthAdjust="spacingAndGlyphs">20</text>
<text x="56.9" y="724.9" font-size="9.3" fill="#2a2a2a" stroke="#2a2a2a" textLength="15.4" lengthAdjust="spacingAndGlyphs">25</text>
<text x="56.9" y="708.6" font-size="9.3" fill="#2a2a2a" stroke="#2a2a2a" textLength="15.4" lengthAdjust="spacingAndGlyphs">30</text>
<text x="56.9" y="692.3" font-size="9.3" fill="#2a2a2a" stroke="#2a2a2a" textLength="15.4" lengthAdjust="spacingAndGlyphs">35</text>
<text x="56.9" y="676.0" font-size="9.3" fill="#2a2a2a" stroke="#2a2a2a" textLength="15.4" lengthAdjust="spacingAndGlyphs">40</text>
<text x="56.9" y="659.6" font-size="9.3" fill="#2a2a2a" stroke="#2a2a2a" textLength="15.4" lengthAdjust="spacingAndGlyphs">45</text>
<text x="56.9" y="643.3" font-size="9.3" fill="#2a2a2a" stroke="#2a2a2a" textLength="15.4" lengthAdjust="spacingAndGlyphs">50</text>
<text x="56.9" y="627.0" font-size="9.3" fill="#2a2a2a" stroke="#2a2a2a" textLength="15.4" lengthAdjust="spacingAndGlyphs">55</text>
<text x="56.9" y="610.6" font-size="9.3" fill="#2a2a2a" stroke="#2a2a2a" textLength="15.4" lengthAdjust="spacingAndGlyphs">60</text>
<text x="56.9" y="594.3" font-size="9.3" fill="#2a2a2a" stroke="#2a2a2a" textLength="15.4" lengthAdjust="spacingAndGlyphs">65</text>
<text x="56.9" y="578.0" font-size="9.3" fill="#2a2a2a" stroke="#2a2a2a" textLength="15.4" lengthAdjust="spacingAndGlyphs">70</text>
<text x="56.9" y="561.6" font-size="9.3" fill="#2a2a2a" stroke="#2a2a2a" textLength="15.4" lengthAdjust="spacingAndGlyphs">75</text>
<text x="56.9" y="545.3" font-size="9.3" fill="#2a2a2a" stroke="#2a2a2a" textLength="15.4" lengthAdjust="spacingAndGlyphs">80</text>
<text x="56.9" y="529.0" font-size="9.3" fill="#2a2a2a" stroke="#2a2a2a" textLength="15.4" lengthAdjust="spacingAndGlyphs">85</text>
<text x="56.9" y="512.7" font-size="9.3" fill="#2a2a2a" stroke="#2a2a2a" textLength="15.4" lengthAdjust="spacingAndGlyphs">90</text>
<text x="56.9" y="496.3" font-size="9.3" fill="#2a2a2a" stroke="#2a2a2a" textLength="15.4" lengthAdjust="spacingAndGlyphs">95</text>
<text x="48.3" y="480.0" font-size="9.3" fill="#2a2a2a" stroke="#2a2a2a" textLength="23.1" lengthAdjust="spacingAndGlyphs">100</text>
<line x1="72.0" y1="803.3" x2="770.3" y2="803.3" stroke="#6a6a6a" stroke-width="1"/>
<path d="M80.30 803.3v5.6M94.09 803.3v4.0M107.88 803.3v4.0M121.67 803.3v4.0M135.46 803.3v4.0M149.25 803.3v5.6M163.04 803.3v4.0M176.83 803.3v4.0M190.62 803.3v4.0M204.41 803.3v4.0M218.20 803.3v5.6M231.99 803.3v4.0M245.78 803.3v4.0M259.57 803.3v4.0M273.36 803.3v4.0M287.15 803.3v5.6M300.94 803.3v4.0M314.73 803.3v4.0M328.52 803.3v4.0M342.31 803.3v4.0M356.10 803.3v5.6M369.89 803.3v4.0M383.68 803.3v4.0M397.47 803.3v4.0M411.26 803.3v4.0M425.05 803.3v5.6M438.84 803.3v4.0M452.63 803.3v4.0M466.42 803.3v4.0M480.21 803.3v4.0M494.00 803.3v5.6M507.79 803.3v4.0M521.58 803.3v4.0M535.37 803.3v4.0M549.16 803.3v4.0M562.95 803.3v5.6M576.74 803.3v4.0M590.53 803.3v4.0M604.32 803.3v4.0M618.11 803.3v4.0M631.90 803.3v5.6M645.69 803.3v4.0M659.48 803.3v4.0M673.27 803.3v4.0M687.06 803.3v4.0M700.85 803.3v5.6M714.64 803.3v4.0M728.43 803.3v4.0M742.22 803.3v4.0M756.01 803.3v4.0M769.80 803.3v5.6" stroke="#808080" stroke-width="1" fill="none"/>
<text x="76.2" y="817.6" font-size="9.0" fill="#2a2a2a" stroke="#2a2a2a" textLength="7.7" lengthAdjust="spacingAndGlyphs">0</text>
<text x="145.2" y="817.6" font-size="9.0" fill="#2a2a2a" stroke="#2a2a2a" textLength="7.7" lengthAdjust="spacingAndGlyphs">5</text>
<text x="209.4" y="817.6" font-size="9.0" fill="#2a2a2a" stroke="#2a2a2a" textLength="15.4" lengthAdjust="spacingAndGlyphs">10</text>
<text x="278.4" y="817.6" font-size="9.0" fill="#2a2a2a" stroke="#2a2a2a" textLength="15.4" lengthAdjust="spacingAndGlyphs">15</text>
<text x="348.2" y="817.6" font-size="9.0" fill="#2a2a2a" stroke="#2a2a2a" textLength="15.4" lengthAdjust="spacingAndGlyphs">20</text>
<text x="417.2" y="817.6" font-size="9.0" fill="#2a2a2a" stroke="#2a2a2a" textLength="15.4" lengthAdjust="spacingAndGlyphs">25</text>
<text x="486.1" y="817.6" font-size="9.0" fill="#2a2a2a" stroke="#2a2a2a" textLength="15.4" lengthAdjust="spacingAndGlyphs">30</text>
<text x="555.0" y="817.6" font-size="9.0" fill="#2a2a2a" stroke="#2a2a2a" textLength="15.4" lengthAdjust="spacingAndGlyphs">35</text>
<text x="624.0" y="817.6" font-size="9.0" fill="#2a2a2a" stroke="#2a2a2a" textLength="15.4" lengthAdjust="spacingAndGlyphs">40</text>
<text x="692.9" y="817.6" font-size="9.0" fill="#2a2a2a" stroke="#2a2a2a" textLength="15.4" lengthAdjust="spacingAndGlyphs">45</text>
<text x="761.9" y="817.6" font-size="9.0" fill="#2a2a2a" stroke="#2a2a2a" textLength="15.4" lengthAdjust="spacingAndGlyphs">50</text>
<text x="393.1" y="829.5" font-size="9.3" fill="#2a2a2a" stroke="#2a2a2a" textLength="65.6" lengthAdjust="spacingAndGlyphs">Time (min)</text>
<text transform="translate(42.4 680.0) rotate(-90) scale(1.6 1)" font-size="9.4" fill="#2a2a2a" stroke="#2a2a2a" style="stroke-width:0.3px"><tspan letter-spacing="-1.35">Relative </tspan><tspan letter-spacing="-2.3">Abundance</tspan></text>
<polyline points="80.4,797.1 82.2,797.1 84.0,797.6 85.9,797.6 87.8,797.8 90.0,797.8 92.2,798.4 93.3,797.8 93.4,795.8 93.4,793.9 93.5,792.2 93.5,790.1 93.7,788.6 93.6,786.7 93.6,785.3 93.7,783.3 93.8,781.1 93.7,779.0 93.9,777.4 93.9,775.4 93.8,774.1 93.8,772.3 93.8,770.0 93.9,768.9 94.0,766.7 93.9,765.1 94.0,763.3 94.1,761.8 94.1,759.5 94.2,757.9 94.1,756.4 94.0,754.8 94.2,752.4 94.2,750.3 94.3,748.4 94.3,747.4 94.2,745.7 94.3,743.7 94.3,741.8 94.5,740.2 94.4,738.0 94.5,735.8 94.4,734.4 94.6,736.3 94.4,738.2 94.6,739.5 94.5,740.9 94.5,742.7 94.7,744.4 94.6,746.2 94.7,748.2 94.7,750.0 94.7,751.5 94.8,753.9 94.9,756.0 94.8,757.4 94.9,759.4 94.8,761.9 94.9,763.3 94.8,764.7 94.9,766.5 94.9,768.6 95.0,769.7 95.0,771.8 95.1,774.2 95.1,775.4 95.0,777.3 95.1,778.9 95.2,781.2 95.3,783.0 95.2,784.3 95.3,786.0 95.2,787.8 95.3,790.0 95.8,792.7 96.2,794.4 96.7,791.1 97.1,794.0 97.4,795.8 97.8,797.8 98.1,799.7 98.4,801.6 99.1,801.6 100.0,800.7 101.1,799.8 102.2,798.4 103.3,797.1 104.4,798.4 107.8,798.9 110.0,798.7 112.2,798.8 114.4,798.9 116.3,798.6 118.1,798.6 120.0,798.4 121.8,797.1 123.3,795.6 125.1,793.3 126.7,791.1 128.2,789.1 130.0,786.7 131.8,784.2 133.3,782.2 134.9,781.6 136.7,780.7 137.8,778.9 138.9,777.8 140.0,778.4 141.1,778.4 142.2,776.7 143.3,775.6 144.4,776.0 145.6,775.6 146.7,774.2 147.8,773.3 148.9,772.4 150.0,771.1 151.1,769.1 152.2,766.7 152.6,764.0 153.1,762.9 153.3,760.5 154.0,758.9 154.8,757.9 154.9,754.9 155.2,753.0 155.6,751.1 155.7,749.0 156.1,747.5 156.4,746.0 156.7,743.9 157.1,741.1 157.6,738.4 158.0,736.7 158.2,738.0 158.1,740.4 158.2,742.2 158.4,745.6 158.5,743.6 158.9,741.6 159.3,738.9 159.8,736.7 160.0,734.4 160.4,732.6 160.7,730.0 160.9,727.9 161.2,725.9 161.3,724.4 161.6,722.6 161.7,720.6 162.0,718.9 162.3,717.3 162.4,715.4 162.6,713.4 162.7,711.1 162.8,708.9 162.9,707.1 163.1,704.8 163.3,703.3 163.6,701.1 163.8,699.3 164.0,697.9 164.2,695.6 164.4,694.2 164.3,692.3 164.4,689.7 164.4,687.8 164.7,686.4 164.7,684.4 164.7,682.8 164.8,680.6 164.8,678.0 164.9,676.9 164.9,674.4 165.0,672.9 165.1,670.4 165.2,668.7 165.2,667.5 165.4,665.1 165.3,663.3 165.3,661.6 165.4,659.1 165.6,657.9 165.6,655.6 166.0,657.8 166.2,661.1 166.4,662.6 166.4,665.4 166.4,666.7 166.3,668.3 166.6,671.1 166.7,672.6 166.7,674.4 166.8,676.2 166.7,678.5 166.7,679.7 166.8,681.6 166.8,683.5 166.9,685.6 167.1,687.0 167.1,689.1 167.3,691.2 167.4,692.9 167.3,694.9 167.5,697.0 167.4,699.1 167.6,701.2 167.8,703.3 168.0,704.8 168.0,706.9 168.1,709.4 168.2,711.1 168.3,712.9 168.5,715.1 168.6,716.5 168.7,718.9 168.7,720.6 168.9,723.2 169.1,725.0 169.1,726.9 169.2,729.2 169.3,730.8 169.5,732.6 169.6,734.4 169.7,736.2 169.9,738.0 170.0,740.0 170.0,741.6 170.0,743.7 170.3,745.0 170.2,746.7 170.2,745.0 170.4,742.3 170.4,740.2 170.6,738.2 170.7,736.7 170.8,735.2 170.8,732.7 170.7,731.5 171.0,730.0 170.9,727.8 171.1,725.5 171.1,723.8 171.3,722.5 171.3,720.0 171.4,717.4 171.6,715.6 171.7,717.4 171.8,718.9 172.0,721.1 172.0,723.6 172.2,725.6 172.4,727.8 172.7,730.0 172.8,731.7 173.1,734.4 173.3,736.4 173.5,737.7 173.6,740.0 173.8,742.2 173.8,743.3 174.0,745.6 174.3,747.1 174.3,749.5 174.7,751.8 175.0,754.1 175.1,756.7 175.8,759.3 176.2,761.1 177.1,763.3 177.8,765.6 178.0,768.5 178.7,768.9 179.3,772.2 180.2,772.5 180.2,775.6 180.9,777.5 181.1,778.9 181.2,779.0 182.2,782.4 183.3,785.6 184.4,788.4 185.6,791.1 187.3,793.3 188.9,794.9 190.4,796.2 192.2,797.1 194.9,798.2 197.8,798.9 200.7,799.6 203.3,800.0 206.7,800.4 210.0,800.7 210.3,799.4 213.3,798.8 216.4,798.2 219.5,797.2 222.6,796.1 224.2,794.9 225.1,794.1 225.9,792.8 226.3,792.6 226.9,793.5 227.7,794.1 229.2,793.7 230.8,793.0 231.8,791.8 232.9,790.0 233.7,787.3 234.5,784.8 234.9,783.6 235.3,783.2 235.9,785.9 236.6,788.9 236.9,791.2 237.4,792.6 238.0,795.1 239.0,795.7 240.0,796.1 241.1,797.2 242.1,798.2 243.5,798.8 245.2,799.2 246.8,798.4 248.3,797.2 249.9,796.1 251.3,795.1 252.6,793.7 253.8,792.0 254.8,789.3 255.6,786.7 255.9,785.9 256.2,783.6 256.5,781.1 256.9,778.4 257.1,776.6 257.7,774.8 258.1,774.1 258.7,776.6 259.0,778.2 259.1,780.7 259.3,782.4 259.7,784.2 259.8,785.9 259.9,787.7 260.2,790.0 260.8,792.0 261.2,793.0 261.6,791.4 262.0,790.6 262.6,792.2 263.3,794.1 264.5,795.7 265.7,797.2 267.8,798.6 269.8,799.6 271.9,800.4 273.9,800.8 276.0,800.2 278.0,799.6 280.1,799.2 282.2,798.8 283.6,798.0 284.6,797.2 285.2,795.3 285.8,794.1 286.5,795.3 287.3,797.2 288.3,798.4 289.3,799.2 292.0,799.0 294.5,798.8 297.6,798.4 300.6,798.2 303.7,797.8 306.8,797.2 308.4,796.3 309.9,795.1 310.9,793.3 311.9,791.0 312.8,788.1 313.6,784.8 314.2,782.8 314.6,781.7 315.2,783.4 315.8,785.9 316.5,789.1 317.1,792.0 317.7,793.3 318.3,794.1 318.9,793.0 319.5,792.6 320.4,793.9 321.2,795.1 322.2,796.3 323.2,797.2 324.9,798.2 326.3,798.8 327.7,799.0 329.4,798.8 331.0,797.8 332.5,797.2 333.5,796.7 334.5,796.7 335.6,797.2 336.6,797.2 337.6,796.7 338.6,796.1 339.7,794.7 340.7,793.0 341.3,791.6 341.7,791.0 342.3,792.8 342.7,794.1 343.4,792.8 343.8,792.0 344.6,788.9 345.2,785.9 345.8,784.8 346.2,784.4 346.8,786.5 347.5,788.9 348.3,790.2 348.9,791.0 349.7,792.2 350.3,793.0 351.0,791.8 351.6,791.0 352.4,792.6 353.0,794.1 353.8,792.8 354.4,792.0 355.3,793.3 356.1,794.1 356.9,792.4 357.7,791.0 358.6,788.3 359.2,785.9 360.0,783.8 360.1,785.7 360.5,786.3 361.1,789.3 362.0,786.7 362.6,785.0 363.6,784.6 364.7,784.0 364.9,780.9 365.5,780.4 365.8,778.3 366.2,776.6 366.6,774.5 367.0,773.5 367.1,775.5 367.2,777.0 367.4,778.7 367.5,780.7 367.8,782.9 368.0,781.0 368.5,779.6 368.9,776.6 369.1,775.1 369.3,772.7 369.5,771.2 369.6,769.1 369.9,766.1 370.2,764.8 370.6,762.8 371.0,760.9 371.6,763.6 372.0,766.1 372.5,769.1 372.9,771.4 373.1,769.5 373.2,767.5 373.3,765.7 373.6,763.9 373.7,761.6 373.7,759.8 373.9,758.2 373.9,756.0 373.9,753.8 374.1,752.5 374.3,750.2 374.3,748.5 374.6,746.5 374.6,745.1 374.8,743.0 375.0,740.1 375.4,736.7 375.8,739.6 376.2,743.0 376.3,744.6 376.4,746.5 376.5,748.2 376.7,750.4 376.9,752.0 376.9,754.5 377.1,755.6 377.1,757.7 377.2,759.5 377.3,761.2 377.4,763.7 377.5,765.7 377.7,767.6 377.7,769.7 377.9,772.4 378.3,770.3 378.8,768.2 379.1,766.1 379.4,764.9 380.0,761.9 380.9,759.8 381.5,757.7 381.5,754.7 382.0,753.8 382.6,752.7 382.9,750.9 383.3,749.3 383.6,747.2 384.0,745.7 384.1,743.5 384.3,742.4 384.7,740.1 385.0,738.4 385.3,735.8 385.5,734.8 385.7,732.5 386.0,730.9 386.1,728.4 386.4,727.0 386.5,725.1 386.8,723.6 387.0,721.5 387.1,719.8 387.2,717.8 387.2,715.7 387.5,713.8 387.7,712.0 387.8,710.6 388.0,708.8 388.2,707.0 388.2,704.9 388.4,703.1 388.7,701.3 388.9,698.9 389.1,696.8 389.3,694.7 389.4,692.7 389.7,690.5 389.8,688.6 390.1,686.2 390.2,683.9 390.3,682.7 390.6,680.8 390.6,678.7 390.8,676.8 390.9,674.9 391.0,673.3 391.0,671.3 391.2,668.8 391.4,667.3 391.5,665.5 391.5,663.2 391.8,661.0 391.8,658.8 392.0,657.6 391.9,655.8 392.1,653.9 392.0,652.1 392.1,650.7 392.4,649.0 392.3,646.2 392.5,645.3 392.4,643.1 392.6,641.1 392.6,639.3 392.6,637.4 392.7,636.0 392.7,634.7 392.9,632.8 393.0,631.1 393.1,628.6 393.0,627.1 393.2,624.8 393.2,623.5 393.3,621.4 393.4,620.0 393.5,618.1 393.5,616.0 393.4,615.1 393.6,613.4 393.5,611.7 393.6,609.4 393.7,608.3 393.7,605.9 393.6,604.0 393.9,602.1 393.9,600.5 393.8,598.7 393.8,597.3 394.0,595.4 394.0,594.2 394.0,592.0 394.1,590.4 394.1,588.9 393.9,586.9 394.1,585.1 394.1,583.4 394.0,581.1 394.1,580.0 394.1,577.7 394.3,575.8 394.2,574.7 394.2,572.6 394.2,570.7 394.2,568.5 394.4,566.8 394.3,565.3 394.5,564.0 394.3,561.7 394.4,560.0 394.3,557.9 394.3,556.3 394.4,554.4 394.6,552.9 394.5,551.3 394.5,549.2 394.5,547.4 394.5,545.3 394.5,544.4 394.6,542.1 394.6,540.7 394.6,538.3 394.7,536.7 394.7,535.0 394.8,533.6 394.6,531.7 394.8,528.9 394.8,528.0 394.6,525.8 394.9,523.7 394.8,522.0 394.9,524.3 394.8,526.5 394.9,527.6 395.0,530.0 395.1,531.9 395.2,534.2 395.2,535.8 395.2,537.5 395.3,538.9 395.4,541.0 395.3,543.3 395.4,545.0 395.4,546.5 395.6,548.9 395.4,550.2 395.6,552.5 395.6,554.3 395.6,556.4 395.7,557.9 395.8,560.0 395.9,562.4 395.9,564.2 395.9,565.3 396.1,568.0 395.9,569.2 396.1,571.2 396.1,573.0 396.2,575.0 396.4,576.9 396.2,578.2 396.4,580.1 396.4,582.2 396.6,584.0 396.6,585.5 396.7,587.2 396.7,589.5 396.7,591.1 396.8,592.2 396.9,594.1 396.7,596.1 396.7,597.6 396.9,599.8 396.8,601.1 396.9,602.9 396.7,604.6 396.8,606.3 396.9,609.0 397.0,610.6 396.8,612.6 397.0,613.6 396.7,615.9 396.8,617.6 396.8,619.1 396.9,621.0 396.8,622.4 396.9,624.2 396.9,626.6 397.0,628.3 397.2,629.4 397.1,631.6 397.2,632.5 397.3,634.5 397.2,636.0 397.2,638.5 397.4,639.7 397.3,641.8 397.3,642.7 397.4,645.3 397.6,646.8 397.5,648.1 397.6,650.0 397.7,652.3 397.8,653.4 397.7,655.2 397.9,656.7 397.9,659.4 397.8,661.3 397.9,662.3 398.1,664.9 398.0,666.1 398.1,668.0 398.2,669.6 398.1,671.8 398.3,673.4 398.4,675.1 398.3,676.6 398.4,678.0 398.4,680.2 398.6,681.3 398.5,683.0 398.7,684.5 398.8,686.5 398.8,688.4 398.9,687.0 398.7,684.6 398.8,682.6 398.8,681.4 398.8,679.1 398.9,677.7 399.0,676.1 398.8,674.2 398.9,672.6 398.9,670.5 398.9,668.8 398.9,666.5 399.0,665.0 399.1,662.8 399.0,661.4 399.2,659.4 399.0,657.7 399.1,656.2 399.0,654.6 399.2,652.2 399.3,650.8 399.1,648.2 399.1,646.4 399.2,645.0 399.3,643.7 399.2,641.8 399.3,639.9 399.4,637.5 399.3,636.4 399.5,634.2 399.4,631.9 399.4,630.0 399.6,628.3 399.5,626.9 399.6,624.4 399.6,623.3 399.7,621.3 399.7,623.3 399.9,626.1 400.0,628.0 400.0,629.3 400.1,631.5 400.1,633.5 400.3,634.8 400.3,637.0 400.3,638.7 400.5,640.3 400.5,642.1 400.5,643.9 400.7,646.2 400.6,647.5 400.7,649.6 400.9,650.6 400.9,652.8 401.0,654.6 400.9,656.4 401.1,657.7 401.1,660.0 401.3,661.9 401.3,663.1 401.3,665.1 401.4,666.6 401.6,668.8 401.6,670.1 401.8,672.6 401.6,673.7 401.9,676.2 401.9,677.5 401.9,679.5 402.2,681.9 402.4,683.9 402.5,685.5 402.4,688.3 402.5,690.5 403.2,693.0 403.6,694.7 403.7,697.1 404.1,698.8 404.2,701.0 404.3,703.4 404.5,704.9 404.6,707.3 404.8,709.1 404.9,710.6 405.2,713.0 405.3,714.6 405.4,716.0 405.3,718.6 405.5,720.5 405.7,722.0 405.8,723.9 405.9,725.8 406.2,727.4 406.3,729.3 406.5,731.0 406.6,732.8 406.7,734.6 407.0,732.0 407.1,730.4 407.3,728.3 407.6,726.5 407.8,724.1 408.2,721.6 408.4,719.9 408.5,717.7 408.6,715.6 408.9,713.2 409.0,711.5 409.1,708.9 409.1,707.3 409.2,705.3 409.5,703.1 409.7,701.3 409.8,699.1 410.1,697.1 410.3,695.1 410.4,693.3 410.9,691.0 410.9,688.3 411.1,686.8 411.2,684.3 411.3,682.8 411.2,681.4 411.4,679.5 411.4,676.9 411.4,675.7 411.6,673.6 411.6,672.2 411.6,670.4 411.9,668.2 411.7,666.1 411.8,664.6 411.8,662.3 412.0,661.0 412.2,658.9 412.2,657.6 412.2,655.3 412.2,653.4 412.2,652.2 412.4,650.6 412.4,648.4 412.5,646.7 412.5,644.5 412.3,643.3 412.2,641.7 412.3,640.1 412.3,637.7 412.2,636.1 412.2,634.3 412.2,632.9 412.3,631.3 412.5,629.3 412.5,627.6 412.4,625.5 412.5,623.5 412.6,622.4 412.7,620.6 412.8,618.9 412.7,616.8 412.6,615.6 412.8,613.2 412.8,611.6 412.9,610.0 412.8,608.7 412.9,607.0 413.1,604.8 412.9,603.2 413.1,601.3 413.2,600.4 413.1,598.3 413.1,596.5 413.2,594.4 413.2,593.3 413.2,591.6 413.3,590.2 413.4,587.8 413.4,585.9 413.3,584.6 413.5,582.5 413.5,580.7 413.4,580.0 413.5,577.5 413.6,576.1 413.6,574.3 413.5,572.9 413.6,570.6 413.8,568.5 413.8,567.5 413.8,564.9 413.8,563.9 413.8,562.1 413.7,559.8 413.7,558.1 413.9,556.4 414.0,555.0 413.9,553.2 414.0,551.3 414.0,549.4 414.0,548.0 414.1,545.6 414.0,544.6 414.0,542.7 414.0,540.3 414.3,539.0 414.1,537.3 414.1,535.6 414.3,533.2 414.2,531.7 414.3,530.1 414.4,528.3 414.4,526.4 414.4,524.9 414.4,522.9 414.4,521.3 414.4,519.4 414.5,517.1 414.6,515.0 414.5,513.1 414.7,511.0 414.7,509.4 414.6,511.2 414.7,512.8 414.9,515.4 415.0,517.3 415.0,518.5 415.1,520.7 415.1,522.8 415.3,524.9 415.3,525.9 415.4,528.5 415.2,529.5 415.3,531.7 415.2,533.0 415.5,535.6 415.5,537.1 415.4,538.9 415.4,540.1 415.4,542.6 415.5,543.9 415.5,545.4 415.7,547.4 415.6,549.3 415.7,551.7 415.7,553.4 415.7,554.3 415.8,556.5 415.8,558.3 415.9,560.0 415.7,561.9 415.7,564.0 415.8,565.8 415.8,566.7 416.0,569.3 415.9,570.3 416.0,572.5 416.0,574.0 416.0,576.1 416.2,578.2 416.2,580.6 416.4,582.1 416.2,583.9 416.4,586.1 416.4,587.3 416.4,589.4 416.6,590.8 416.6,593.2 416.5,594.9 416.6,596.5 416.7,598.3 416.6,600.6 416.7,602.6 416.8,603.7 416.9,606.4 417.1,607.7 417.0,609.5 417.1,611.7 417.2,613.5 417.2,615.5 417.2,616.8 417.4,618.4 417.3,620.6 417.5,622.6 417.5,623.9 417.6,626.4 417.6,627.6 417.6,630.2 417.8,631.7 417.8,633.2 418.0,635.6 417.9,636.9 418.0,638.8 418.1,640.9 418.2,642.8 418.3,644.4 418.5,646.9 418.7,647.9 418.7,650.1 418.6,651.5 418.6,654.2 418.5,655.7 418.4,656.9 418.3,658.6 418.1,660.7 418.3,662.5 418.1,664.6 418.1,666.3 418.0,667.6 418.0,669.6 417.9,671.5 417.9,673.7 418.0,675.1 417.9,676.6 418.0,678.6 418.0,680.4 418.0,682.2 418.0,683.7 418.1,685.1 418.0,686.6 418.1,689.0 418.1,690.5 418.0,692.5 418.1,694.1 418.1,696.2 418.3,698.1 418.2,699.5 418.2,702.0 418.4,703.5 418.3,704.9 418.3,707.3 418.4,705.1 418.4,704.1 418.5,701.4 418.6,700.1 418.6,698.3 418.7,696.8 418.7,694.7 418.9,692.8 418.9,690.7 419.0,689.1 419.1,687.1 418.9,685.5 419.0,683.6 419.1,682.0 419.2,679.7 419.3,678.2 419.2,676.3 419.4,674.3 419.4,673.2 419.5,670.5 419.4,668.8 419.6,666.7 419.6,665.2 419.6,663.7 419.7,661.5 419.8,659.4 419.8,657.7 419.9,656.4 419.8,654.2 419.8,652.4 420.0,650.5 420.0,648.8 420.0,646.7 420.1,644.1 420.2,642.1 420.2,640.1 420.4,638.3 420.5,639.6 420.4,641.7 420.5,643.5 420.5,645.4 420.5,647.4 420.6,649.5 420.7,650.4 420.6,652.6 420.7,654.8 420.7,655.7 420.5,657.9 420.8,659.0 420.6,661.4 420.6,662.5 420.8,664.4 420.7,666.2 420.9,668.5 420.9,669.5 420.8,671.5 421.0,673.4 421.1,675.2 421.1,677.1 421.1,678.2 421.2,680.3 421.2,682.0 421.4,683.7 421.3,685.6 421.3,687.0 421.4,689.0 421.5,690.8 421.7,692.6 421.8,694.5 422.0,696.6 422.1,698.0 422.1,700.5 422.2,702.8 422.4,705.2 422.5,707.3 422.7,709.0 422.8,711.4 423.1,712.7 423.4,715.4 423.5,717.8 424.2,715.3 424.6,713.6 424.8,715.0 425.1,717.7 425.2,719.5 425.6,721.6 425.6,724.1 426.0,726.2 426.3,728.3 426.4,730.8 426.7,732.5 427.0,734.8 427.4,736.5 427.5,738.8 427.8,740.8 428.2,743.0 428.4,745.1 428.6,746.9 428.8,749.2 429.0,751.8 429.2,753.5 429.4,756.0 429.5,757.7 429.8,759.8 429.9,761.9 430.2,764.3 430.4,766.2 430.7,768.7 430.9,770.4 431.2,772.7 431.3,774.5 431.7,776.0 431.9,778.9 432.2,780.4 432.5,782.3 433.0,785.0 433.8,787.2 434.5,788.2 435.1,785.9 435.7,782.9 435.8,780.6 436.1,779.7 436.3,777.6 436.4,775.6 436.5,774.2 436.6,772.0 436.7,770.3 436.8,768.2 436.9,766.6 437.1,764.8 437.2,763.1 437.4,761.1 437.4,758.9 437.8,757.7 437.8,755.6 438.3,753.5 438.7,752.5 438.9,754.8 439.1,756.9 439.4,759.7 439.5,761.9 439.6,764.0 439.8,765.7 440.0,767.7 440.2,769.9 440.4,772.3 440.5,773.9 440.6,776.6 440.7,778.1 441.0,780.9 441.2,782.5 441.5,785.2 441.8,787.2 442.1,784.8 442.5,783.4 442.9,780.8 443.5,779.6 443.9,778.7 444.6,779.6 445.2,779.8 446.0,777.1 446.7,774.5 447.4,772.7 447.5,770.3 447.8,768.7 448.1,766.1 448.4,763.9 448.8,761.9 449.0,760.0 449.4,757.7 450.0,755.2 450.7,753.5 450.6,751.3 450.9,749.3 451.0,747.6 451.1,745.7 451.1,744.3 451.0,741.9 451.2,740.6 451.3,738.7 451.5,736.1 451.5,734.6 451.7,733.1 451.5,731.4 451.7,729.6 451.8,727.7 451.9,725.8 451.7,724.6 451.9,722.1 451.9,720.9 451.9,719.6 452.1,717.3 452.2,715.5 452.0,714.1 452.2,712.3 452.3,710.6 452.4,708.6 452.3,707.3 452.5,705.0 452.5,703.2 452.7,700.8 452.8,698.9 453.0,697.2 453.0,694.7 453.2,692.6 453.6,695.1 453.9,696.5 454.0,698.9 454.3,701.3 454.5,703.2 454.7,705.6 454.9,708.1 454.9,709.6 455.1,711.5 455.3,713.2 455.3,714.8 455.4,716.8 455.3,718.8 455.4,719.7 455.5,722.0 455.6,723.7 455.7,725.8 455.8,726.8 455.9,729.3 455.8,730.8 455.9,732.5 456.1,734.9 456.2,736.7 456.1,738.4 456.3,740.6 456.3,742.6 456.5,744.0 456.4,746.6 456.6,748.0 456.6,749.6 456.8,751.4 456.9,749.4 456.9,748.1 457.0,745.6 456.9,744.6 457.1,742.6 457.1,741.1 457.2,738.9 457.2,737.1 457.1,734.9 457.3,733.1 457.3,731.4 457.3,729.6 457.2,727.4 457.3,726.5 457.4,724.1 457.5,721.6 457.5,720.2 457.7,717.9 457.8,715.7 457.8,713.6 458.2,711.0 458.2,709.4 458.4,712.0 458.4,713.9 458.7,716.1 458.7,718.4 458.9,720.6 459.1,722.4 459.1,724.1 459.1,725.6 459.2,727.3 459.3,728.9 459.6,731.2 459.7,732.8 459.7,734.6 459.7,736.8 459.9,738.2 460.1,739.5 460.1,741.3 460.3,743.5 460.3,745.1 460.4,747.1 460.5,748.6 460.8,750.9 460.7,751.9 461.0,753.9 461.1,755.7 461.4,758.4 461.3,760.3 461.6,761.9 461.9,764.5 462.0,766.6 462.4,768.6 462.4,770.3 462.5,768.0 462.9,766.9 462.9,765.0 463.1,763.0 463.3,761.3 463.3,759.1 463.5,757.7 463.9,756.0 464.1,755.6 464.2,757.9 464.5,760.7 464.6,762.5 464.7,764.0 465.0,766.1 465.1,768.1 465.4,770.0 465.8,771.6 466.2,772.8 466.5,774.7 466.6,776.6 467.6,780.4 467.7,781.3 468.2,781.7 468.7,785.0 468.6,782.2 468.0,782.7 467.3,779.9 467.0,779.3 466.6,776.6 466.7,778.8 467.6,780.0 468.7,782.9 469.7,785.0 470.8,787.2 471.8,789.5 472.9,791.4 473.7,792.6 474.3,793.5 475.0,792.2 475.6,790.3 475.7,788.1 475.9,786.4 476.0,784.2 476.2,781.9 476.2,780.2 476.3,778.2 476.4,776.6 476.5,775.2 476.5,772.6 476.7,770.9 476.8,768.9 476.8,767.0 476.7,765.8 476.8,763.7 476.9,761.9 476.8,759.8 477.1,758.0 477.1,756.8 477.0,754.0 477.0,753.0 477.1,751.0 477.1,749.3 477.2,747.3 477.3,745.1 477.2,743.0 477.4,742.0 477.4,739.5 477.4,738.5 477.4,736.4 477.6,734.3 477.5,733.1 477.5,730.7 477.7,729.3 477.7,727.7 477.7,725.6 477.9,724.2 477.9,722.7 477.8,720.3 478.0,719.1 477.9,717.3 478.0,715.7 478.1,713.6 478.3,712.1 478.1,709.9 478.3,708.5 478.3,706.7 478.6,704.1 478.5,702.6 478.5,700.5 478.7,698.5 478.8,696.1 478.9,694.5 479.0,692.6 479.1,690.4 479.2,689.4 479.2,687.1 479.3,685.4 479.4,683.3 479.4,682.0 479.5,680.8 479.5,678.6 479.5,676.8 479.6,675.5 479.6,673.0 479.8,671.5 480.0,669.3 479.9,667.0 480.0,665.8 480.2,663.5 480.4,660.8 480.5,659.1 480.6,656.8 480.6,654.9 480.9,653.0 480.9,650.0 481.1,648.4 481.1,646.7 481.0,644.7 481.1,643.1 481.3,641.5 481.3,639.3 481.2,638.2 481.4,636.6 481.3,634.4 481.4,633.1 481.6,630.9 481.4,629.6 481.5,627.2 481.7,625.7 481.7,624.4 481.7,622.6 481.7,620.6 481.7,618.4 481.8,617.6 481.7,615.2 481.7,613.9 481.6,612.0 481.8,610.2 481.7,608.1 481.9,607.4 481.9,605.6 481.9,603.8 481.7,602.2 481.8,600.2 481.9,598.3 481.9,596.8 482.0,594.9 481.9,593.2 482.0,591.3 482.0,590.0 482.1,587.6 482.1,585.7 482.1,584.8 482.1,582.3 482.0,580.8 482.0,578.6 482.1,577.1 482.1,575.3 482.2,573.3 482.3,572.4 482.3,570.3 482.3,568.2 482.3,566.7 482.3,565.0 482.3,563.4 482.3,561.4 482.4,559.6 482.4,558.0 482.4,555.9 482.4,555.1 482.5,553.1 482.6,551.1 482.6,549.4 482.4,547.5 482.5,546.6 482.5,544.0 482.6,542.8 482.6,540.9 482.5,538.8 482.7,537.9 482.6,535.3 482.7,533.7 482.8,532.2 482.8,530.7 482.9,528.8 482.8,527.1 482.9,525.3 482.8,523.7 482.8,521.8 483.0,519.9 483.1,517.9 483.0,516.1 483.0,514.4 483.1,512.9 483.0,510.9 483.1,508.9 483.1,507.5 483.1,505.3 483.1,503.5 483.3,502.2 483.2,500.1 483.2,498.3 483.2,496.1 483.3,494.2 483.2,492.7 483.3,491.2 483.5,489.2 483.3,487.4 483.4,485.0 483.6,483.1 483.4,480.9 483.6,479.7 483.7,478.3 483.7,476.1 483.8,478.2 483.8,480.1 483.8,482.3 483.9,484.0 483.9,486.1 484.0,487.7 484.0,489.8 484.0,490.9 484.0,493.0 484.1,494.9 484.1,497.1 484.1,498.3 484.2,500.0 484.1,502.4 484.3,503.7 484.2,505.1 484.3,507.7 484.2,509.0 484.4,511.2 484.5,512.9 484.4,514.7 484.4,515.8 484.4,517.9 484.4,519.3 484.5,521.6 484.7,523.1 484.6,525.0 484.5,526.9 484.7,528.5 484.7,530.1 484.6,531.6 484.7,534.2 484.6,535.8 484.7,537.4 484.8,539.0 484.9,541.0 484.8,542.8 484.8,544.7 484.8,546.0 484.8,548.5 484.9,549.6 485.1,551.9 485.1,553.8 484.9,555.0 485.1,557.6 485.1,559.4 485.1,560.6 485.2,562.8 485.4,564.3 485.2,566.7 485.3,568.4 485.5,569.9 485.5,572.4 485.4,574.1 485.4,576.1 485.4,577.7 485.6,580.2 485.7,581.4 485.6,583.7 485.8,585.3 485.8,587.0 485.7,588.6 485.7,590.9 485.9,592.3 485.9,594.3 485.9,596.1 485.8,597.7 485.9,599.8 485.9,602.3 485.9,603.8 486.0,605.7 486.0,607.4 486.1,609.4 486.2,610.8 486.1,612.8 486.1,614.4 486.1,616.2 486.2,618.3 486.4,619.6 486.3,621.2 486.3,623.8 486.5,625.1 486.3,627.2 486.5,628.5 486.6,630.3 486.6,631.8 486.6,633.9 486.5,635.7 486.5,637.4 486.6,639.5 486.7,641.5 486.6,642.8 486.6,644.8 486.6,646.9 486.8,648.3 486.8,650.1 486.9,651.7 486.9,653.6 486.8,655.6 486.8,657.3 487.0,658.9 487.0,661.0 487.0,662.6 487.1,664.1 487.1,666.1 487.0,667.8 487.1,669.6 487.3,671.1 487.3,673.1 487.4,675.5 487.5,677.2 487.4,678.2 487.6,679.8 487.6,682.0 487.6,684.0 487.7,685.6 487.7,687.7 487.8,689.6 487.8,691.2 488.1,692.5 488.0,694.7 488.1,692.8 488.0,690.0 488.1,688.0 488.2,686.2 488.2,684.2 488.3,682.1 488.3,680.9 488.4,679.2 488.4,677.3 488.6,675.1 488.5,673.2 488.6,671.5 488.8,670.0 488.6,667.6 488.8,666.4 488.8,663.7 489.0,661.9 489.1,660.2 488.9,658.9 489.1,656.8 489.1,654.9 489.3,652.9 489.3,650.5 489.2,648.5 489.3,647.5 489.4,645.7 489.5,643.8 489.4,641.9 489.5,640.0 489.6,637.6 489.6,636.1 489.5,634.8 489.5,632.7 489.7,630.5 489.8,632.5 489.8,633.8 489.9,635.8 490.0,638.4 489.9,640.0 490.0,641.6 490.1,644.2 490.1,646.2 490.2,648.2 490.3,650.5 490.5,652.8 490.5,654.4 490.6,656.8 490.7,658.9 490.8,661.5 491.0,662.9 491.1,664.8 491.2,667.3 491.3,669.0 491.4,671.2 491.5,672.7 491.6,674.9 491.7,676.8 491.9,678.7 491.8,679.9 492.0,682.0 492.1,684.1 492.2,686.1 492.4,688.8 492.6,690.4 492.6,692.6 492.8,694.7 493.0,696.8 493.3,699.3 493.4,701.0 493.7,703.1 494.1,701.8 494.5,701.0 494.6,702.8 494.9,705.6 495.2,708.0 495.4,709.4 495.8,706.0 496.2,703.1 496.5,704.9 496.6,707.7 496.8,710.1 497.0,711.5 497.4,712.7 497.7,714.8 498.1,717.8 498.3,719.4 498.7,721.1 499.1,724.1 499.2,726.2 499.6,728.3 499.8,730.8 500.0,732.5 500.2,734.7 500.2,736.9 500.4,738.8 500.5,740.6 500.8,742.5 500.8,745.1 500.9,747.6 501.1,749.0 501.2,751.4 501.5,753.9 501.6,755.3 501.7,757.7 501.9,760.3 502.0,762.0 502.3,764.4 502.5,766.8 502.7,768.2 502.9,770.3 503.7,771.7 503.8,774.1 504.4,776.6 505.0,778.7 505.5,779.8 506.1,778.3 506.5,777.7 507.1,780.4 507.6,782.9 507.9,785.0 508.4,787.6 508.9,789.6 509.2,791.4 510.1,793.7 510.7,795.1 511.8,794.7 512.8,794.5 513.9,796.2 514.9,797.2 516.4,797.7 518.1,798.1 520.2,797.9 522.3,797.7 524.0,796.8 525.4,795.6 526.3,793.7 526.9,791.4 527.5,788.4 527.9,787.0 528.2,785.0 528.6,782.5 529.0,780.8 529.4,782.9 529.8,785.0 530.3,788.0 530.7,790.3 531.3,789.9 531.9,789.3 532.6,787.2 533.2,785.0 533.8,783.2 534.5,781.9 535.3,784.0 535.9,786.1 536.8,788.2 537.4,789.7 538.2,790.5 539.1,790.9 540.8,791.4 542.2,791.8 543.7,792.6 545.4,793.0 547.1,792.6 548.5,792.6 550.0,793.5 551.7,793.9 553.8,794.3 555.9,794.5 557.2,793.7 558.4,792.4 559.1,793.7 559.7,794.5 561.8,795.1 564.3,795.6 567.5,796.2 570.6,796.6 573.8,797.0 576.9,797.2 579.1,797.7 581.1,797.5 583.2,797.6 585.3,797.7 587.1,797.5 588.8,797.9 590.6,797.9 592.7,798.1 595.0,798.1 597.3,797.7 599.2,797.8 600.8,797.7 602.7,798.1 604.6,798.2 606.4,798.4 608.5,798.6 610.4,798.7 612.3,798.5 614.3,798.7 616.0,798.8 617.7,798.8 619.5,799.0 621.2,799.1 622.9,799.0 624.6,799.1 626.4,799.2 628.1,799.1 629.9,799.2 631.6,799.4 633.4,799.4 635.1,799.5 636.8,799.5 638.5,799.4 640.3,799.5 642.0,799.4 643.7,799.7 645.4,799.6 647.2,799.6 648.9,799.5 650.7,799.7 652.4,799.7 654.1,799.6 655.9,799.7 657.6,799.8 659.3,799.9 661.0,799.8 662.8,799.9 664.5,800.0 666.3,799.9 668.0,800.0 669.7,800.1 671.4,800.1 673.2,800.1 674.9,800.2 676.6,800.1 678.4,800.2 680.1,800.1 681.9,800.1 683.6,800.2 685.3,800.2 687.0,800.2 688.8,800.3 690.5,800.2 692.2,800.2 694.0,800.3 695.7,800.4 697.4,800.4 699.2,800.4 700.9,800.4 702.6,800.4 704.4,800.4 706.1,800.4 707.8,800.4 709.6,800.4 711.3,800.4 713.2,800.4 715.2,800.4 717.1,800.4 719.1,800.4 721.0,800.4 723.4,800.4 725.9,800.4 728.3,800.1 730.7,799.7 733.1,799.2 735.6,798.7 737.5,798.0 739.2,797.0 740.2,795.1 740.9,792.6 741.2,790.3 741.6,787.8 742.2,786.1 742.4,784.1 742.8,782.9 743.3,782.4 743.8,783.7 744.3,785.4 744.5,786.8 744.6,789.0 744.8,790.7 745.0,792.7 745.3,795.1 746.0,796.8 746.7,797.5 747.7,796.0 748.9,793.8 750.1,791.9 751.3,790.2 752.5,789.0 753.8,788.3 755.0,787.5 756.2,787.3 757.4,787.5 758.6,788.3 759.8,789.0 761.0,789.7 762.7,790.7 764.7,791.4 766.6,792.4 768.3,793.1 770.0,793.8" fill="none" stroke="#262626" stroke-width="0.85" stroke-linejoin="round"/>
<text x="88.0" y="733.7" font-size="9" fill="#2a2a2a" stroke="#2a2a2a" textLength="25.8" lengthAdjust="spacingAndGlyphs">1.07</text>
<text x="115.5" y="770.0" font-size="9" fill="#2a2a2a" stroke="#2a2a2a" textLength="26.6" lengthAdjust="spacingAndGlyphs">4.91</text>
<text x="125.1" y="734.8" font-size="9" fill="#2a2a2a" stroke="#2a2a2a" textLength="26.6" lengthAdjust="spacingAndGlyphs">5.62</text>
<text x="151.3" y="652.2" font-size="9" fill="#2a2a2a" stroke="#2a2a2a" textLength="26.6" lengthAdjust="spacingAndGlyphs">6.21</text>
<text x="175.5" y="713.1" font-size="9" fill="#2a2a2a" stroke="#2a2a2a" textLength="26.6" lengthAdjust="spacingAndGlyphs">6.65</text>
<text x="182.4" y="759.3" font-size="9" fill="#2a2a2a" stroke="#2a2a2a" textLength="26.6" lengthAdjust="spacingAndGlyphs">7.14</text>
<text x="196.6" y="780.7" font-size="9" fill="#2a2a2a" stroke="#2a2a2a" textLength="34.2" lengthAdjust="spacingAndGlyphs">11.29</text>
<text x="240.8" y="770.9" font-size="9" fill="#2a2a2a" stroke="#2a2a2a" textLength="34.2" lengthAdjust="spacingAndGlyphs">12.92</text>
<text x="266.9" y="787.7" font-size="9" fill="#2a2a2a" stroke="#2a2a2a" textLength="34.2" lengthAdjust="spacingAndGlyphs">13.21</text>
<text x="323.1" y="780.8" font-size="9" fill="#2a2a2a" stroke="#2a2a2a" textLength="35.0" lengthAdjust="spacingAndGlyphs">20.23</text>
<text x="327.7" y="770.1" font-size="9" fill="#2a2a2a" stroke="#2a2a2a" textLength="35.0" lengthAdjust="spacingAndGlyphs">20.83</text>
<text x="331.6" y="758.1" font-size="9" fill="#2a2a2a" stroke="#2a2a2a" textLength="35.0" lengthAdjust="spacingAndGlyphs">21.09</text>
<text x="343.2" y="732.9" font-size="9" fill="#2a2a2a" stroke="#2a2a2a" textLength="35.0" lengthAdjust="spacingAndGlyphs">21.41</text>
<text x="345.9" y="693.0" font-size="9" fill="#2a2a2a" stroke="#2a2a2a" textLength="35.0" lengthAdjust="spacingAndGlyphs">22.40</text>
<text x="370.1" y="519.4" font-size="9" fill="#2a2a2a" stroke="#2a2a2a" textLength="35.0" lengthAdjust="spacingAndGlyphs">22.84</text>
<text x="396.6" y="507.0" font-size="9" fill="#2a2a2a" stroke="#2a2a2a" textLength="35.0" lengthAdjust="spacingAndGlyphs">24.25</text>
<text x="423.5" y="635.4" font-size="9" fill="#2a2a2a" stroke="#2a2a2a" textLength="35.0" lengthAdjust="spacingAndGlyphs">24.62</text>
<text x="435.2" y="688.7" font-size="9" fill="#2a2a2a" stroke="#2a2a2a" textLength="35.0" lengthAdjust="spacingAndGlyphs">27.03</text>
<text x="465.6" y="472.7" font-size="9" fill="#2a2a2a" stroke="#2a2a2a" textLength="35.0" lengthAdjust="spacingAndGlyphs">29.28</text>
<text x="492.7" y="626.5" font-size="9" fill="#2a2a2a" stroke="#2a2a2a" textLength="35.0" lengthAdjust="spacingAndGlyphs">29.65</text>
<text x="499.7" y="697.8" font-size="9" fill="#2a2a2a" stroke="#2a2a2a" textLength="35.0" lengthAdjust="spacingAndGlyphs">30.18</text>
<text x="510.8" y="773.5" font-size="9" fill="#2a2a2a" stroke="#2a2a2a" textLength="35.0" lengthAdjust="spacingAndGlyphs">30.91</text>
<text x="556.5" y="778.1" font-size="9" fill="#2a2a2a" stroke="#2a2a2a" textLength="35.0" lengthAdjust="spacingAndGlyphs">32.96</text>
<text x="550.8" y="789.2" font-size="9" fill="#2a2a2a" stroke="#2a2a2a" textLength="35.0" lengthAdjust="spacingAndGlyphs">34.67</text>
<text x="597.5" y="793.5" font-size="9" fill="#2a2a2a" stroke="#2a2a2a" textLength="35.0" lengthAdjust="spacingAndGlyphs">35.97</text>
<text x="642.7" y="796.0" font-size="9" fill="#2a2a2a" stroke="#2a2a2a" textLength="35.0" lengthAdjust="spacingAndGlyphs">39.20</text>
<text x="690.8" y="796.0" font-size="9" fill="#2a2a2a" stroke="#2a2a2a" textLength="35.0" lengthAdjust="spacingAndGlyphs">47.40</text>
<text x="725.7" y="779.6" font-size="9" fill="#2a2a2a" stroke="#2a2a2a" textLength="35.0" lengthAdjust="spacingAndGlyphs">48.07</text>
<line x1="94.4" y1="734.4" x2="102.2" y2="733.8" stroke="#78d078" stroke-width="0.75"/>
<line x1="130.0" y1="770.0" x2="146.7" y2="771.6" stroke="#78d078" stroke-width="0.75"/>
<line x1="140.0" y1="734.9" x2="157.1" y2="736.7" stroke="#78d078" stroke-width="0.75"/>
<line x1="171.6" y1="715.6" x2="188.9" y2="714.0" stroke="#78d078" stroke-width="0.75"/>
<line x1="177.8" y1="760.7" x2="195.6" y2="759.6" stroke="#78d078" stroke-width="0.75"/>
<line x1="214.0" y1="781.1" x2="234.5" y2="782.4" stroke="#78d078" stroke-width="0.75"/>
<line x1="262.6" y1="788.9" x2="283.2" y2="787.9" stroke="#78d078" stroke-width="0.75"/>
<line x1="341.6" y1="781.9" x2="359.4" y2="783.4" stroke="#78d078" stroke-width="0.75"/>
<line x1="345.8" y1="770.8" x2="366.8" y2="772.4" stroke="#78d078" stroke-width="0.75"/>
<line x1="351.0" y1="758.8" x2="370.0" y2="760.5" stroke="#78d078" stroke-width="0.75"/>
<line x1="361.1" y1="733.1" x2="374.6" y2="734.6" stroke="#78d078" stroke-width="0.75"/>
<line x1="363.6" y1="694.0" x2="388.4" y2="695.3" stroke="#78d078" stroke-width="0.75"/>
<line x1="388.0" y1="520.3" x2="393.5" y2="521.5" stroke="#78d078" stroke-width="0.75"/>
<line x1="420.0" y1="636.8" x2="441.1" y2="635.7" stroke="#78d078" stroke-width="0.75"/>
<line x1="489.4" y1="627.9" x2="510.6" y2="626.8" stroke="#78d078" stroke-width="0.75"/>
<line x1="496.4" y1="699.5" x2="518.1" y2="698.2" stroke="#78d078" stroke-width="0.75"/>
<line x1="506.5" y1="775.0" x2="528.6" y2="773.9" stroke="#78d078" stroke-width="0.75"/>
<line x1="534.9" y1="779.4" x2="572.7" y2="778.7" stroke="#78d078" stroke-width="0.75"/>
<line x1="558.0" y1="790.9" x2="569.6" y2="789.9" stroke="#78d078" stroke-width="0.75"/>
<line x1="575.5" y1="795.3" x2="614.8" y2="794.5" stroke="#78d078" stroke-width="0.75"/>
<line x1="621.5" y1="798.0" x2="660.4" y2="796.8" stroke="#78d078" stroke-width="0.75"/>
<line x1="708.9" y1="797.0" x2="733.1" y2="798.0" stroke="#78d078" stroke-width="0.75"/>
<line x1="236.6" y1="764.3" x2="250.9" y2="794.7" stroke="#4472c4" stroke-width="2.4"/>
<line x1="255.5" y1="758.5" x2="251.8" y2="794.7" stroke="#4472c4" stroke-width="2.4"/>
<line x1="317.7" y1="764.3" x2="333.1" y2="794.7" stroke="#4472c4" stroke-width="2.4"/>
<line x1="594.4" y1="770.8" x2="590.6" y2="797.5" stroke="#4472c4" stroke-width="2.4"/>
<line x1="639.2" y1="745.3" x2="620.2" y2="798.2" stroke="#4472c4" stroke-width="2.4"/>
<line x1="669.6" y1="761.6" x2="662.0" y2="798.2" stroke="#4472c4" stroke-width="2.4"/>
<text class="b" x="156.8" y="640.7" font-size="16.5">1</text>
<text class="b" x="228.8" y="760.2" font-size="16.5">2</text>
<text class="b" x="251.0" y="755.0" font-size="16.5">3</text>
<text class="b" x="310.9" y="761.2" font-size="16.5">7</text>
<text class="b" x="409.4" y="496.1" font-size="16.5">9</text>
<text class="b" x="575.8" y="763.5" font-size="16.5">19-21</text>
<text class="b" x="620.2" y="736.6" font-size="16.5">23-28</text>
<text class="b" x="667.2" y="756.6" font-size="16.5">31</text>
</svg>
</body></html>
